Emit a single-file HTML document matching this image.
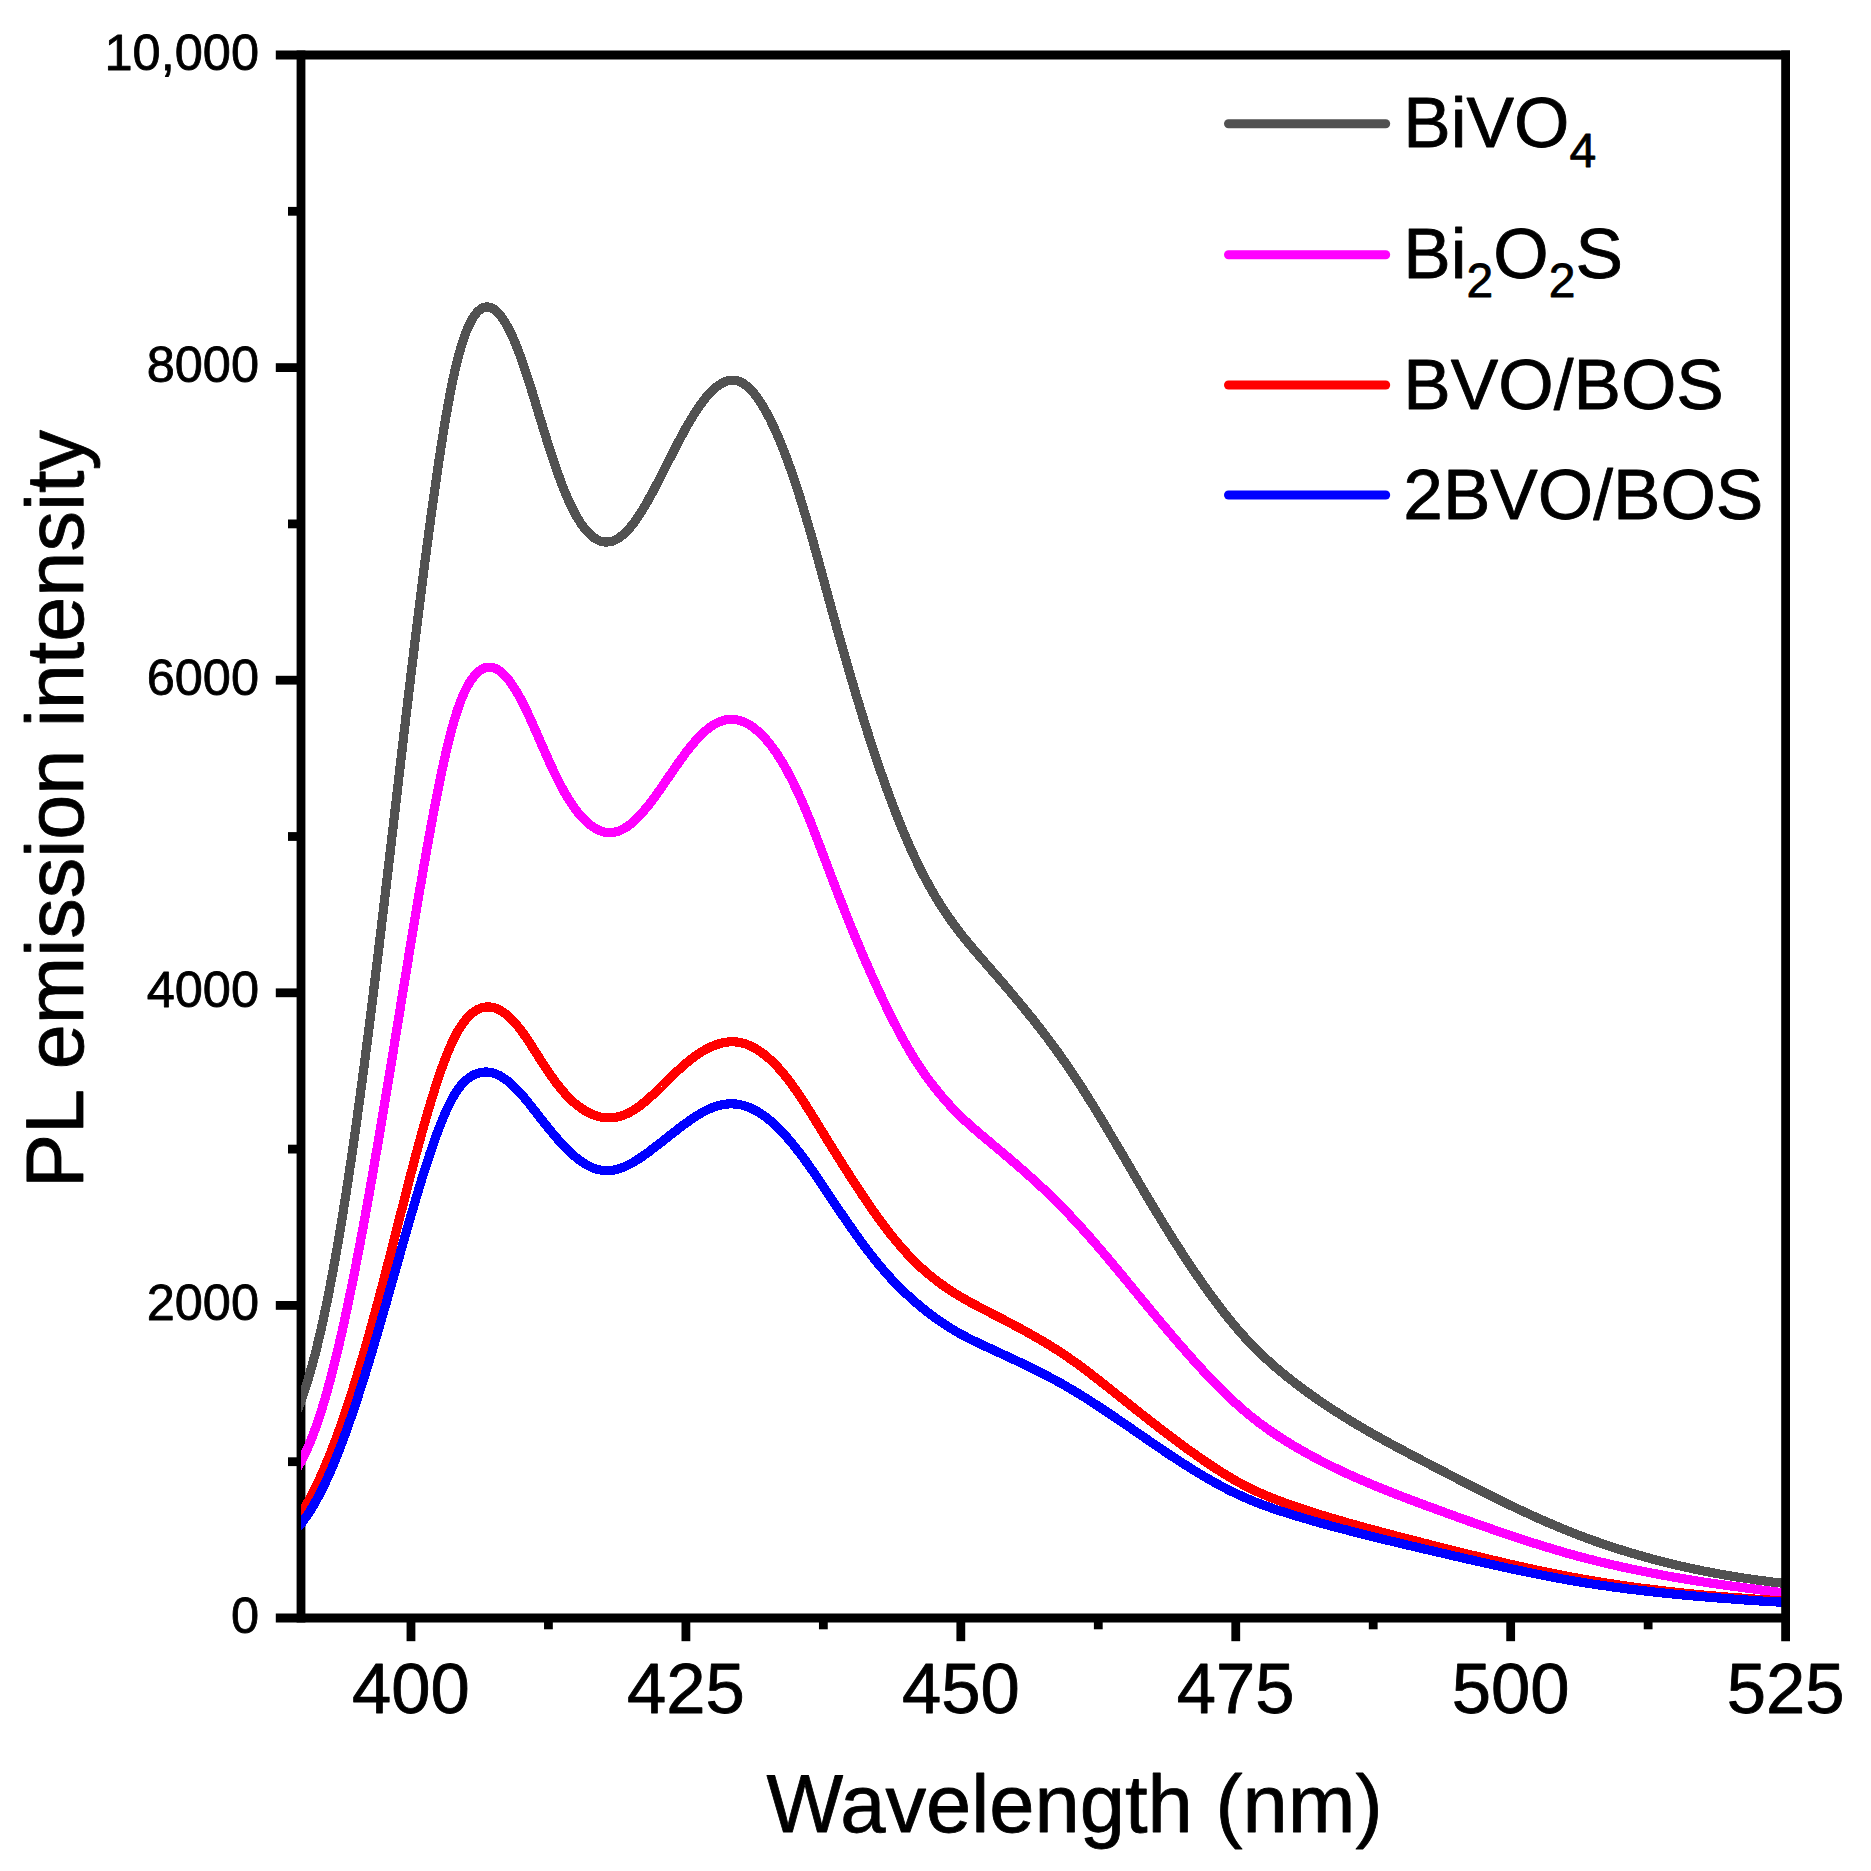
<!DOCTYPE html>
<html lang="en"><head><meta charset="utf-8"><title>PL emission intensity</title>
<style>html,body{margin:0;padding:0;background:#fff}body{width:1871px;height:1871px;overflow:hidden}svg{display:block}text{font-family:"Liberation Sans",sans-serif;fill:#000;stroke:#000;stroke-width:0.8px;stroke-linejoin:round}</style></head><body>
<svg width="1871" height="1871" viewBox="0 0 1871 1871">
<rect width="1871" height="1871" fill="#fff"/>
<g stroke="#000" stroke-width="8.8" fill="none" stroke-linecap="butt">
<line x1="301.0" y1="50.6" x2="301.0" y2="1622.4"/>
<line x1="275.8" y1="1618.0" x2="1790.0" y2="1618.0"/>
<line x1="275.8" y1="1305.40" x2="301.0" y2="1305.40"/>
<line x1="275.8" y1="992.80" x2="301.0" y2="992.80"/>
<line x1="275.8" y1="680.20" x2="301.0" y2="680.20"/>
<line x1="275.8" y1="367.60" x2="301.0" y2="367.60"/>
<line x1="288.0" y1="1461.70" x2="301.0" y2="1461.70"/>
<line x1="288.0" y1="1149.10" x2="301.0" y2="1149.10"/>
<line x1="288.0" y1="836.50" x2="301.0" y2="836.50"/>
<line x1="288.0" y1="523.90" x2="301.0" y2="523.90"/>
<line x1="288.0" y1="211.30" x2="301.0" y2="211.30"/>
<line x1="410.97" y1="1618.0" x2="410.97" y2="1641.2"/>
<line x1="685.90" y1="1618.0" x2="685.90" y2="1641.2"/>
<line x1="960.82" y1="1618.0" x2="960.82" y2="1641.2"/>
<line x1="1235.75" y1="1618.0" x2="1235.75" y2="1641.2"/>
<line x1="1510.67" y1="1618.0" x2="1510.67" y2="1641.2"/>
<line x1="548.43" y1="1618.0" x2="548.43" y2="1629.3"/>
<line x1="823.36" y1="1618.0" x2="823.36" y2="1629.3"/>
<line x1="1098.29" y1="1618.0" x2="1098.29" y2="1629.3"/>
<line x1="1373.21" y1="1618.0" x2="1373.21" y2="1629.3"/>
<line x1="1648.14" y1="1618.0" x2="1648.14" y2="1629.3"/>
</g>
<defs><clipPath id="c"><rect x="301.0" y="55.0" width="1484.6" height="1563.0"/></clipPath></defs>
<g fill="none" stroke-width="9.2" stroke-linejoin="round" stroke-linecap="butt" clip-path="url(#c)" shape-rendering="crispEdges">
<path stroke="#515151" d="M297.0,1411.2 L298.5,1407.5 L300.0,1403.6 L301.5,1399.6 L303.0,1395.4 L304.5,1390.9 L306.0,1386.3 L307.5,1381.5 L309.0,1376.5 L310.5,1371.3 L312.0,1365.9 L313.5,1360.4 L315.0,1354.6 L316.5,1348.7 L318.0,1342.5 L319.5,1336.2 L321.0,1329.7 L322.5,1323.0 L324.0,1316.1 L325.5,1309.0 L327.0,1301.7 L328.5,1294.3 L330.0,1286.6 L331.5,1278.8 L333.0,1270.8 L334.5,1262.6 L336.0,1254.2 L337.5,1245.7 L339.0,1237.0 L340.5,1228.0 L342.0,1219.0 L343.5,1209.7 L345.0,1200.2 L346.5,1190.6 L348.0,1180.8 L349.5,1170.9 L351.0,1160.8 L352.5,1150.5 L354.0,1140.1 L355.5,1129.5 L357.0,1118.7 L358.5,1107.8 L360.0,1096.8 L361.5,1085.7 L363.0,1074.4 L364.5,1062.9 L366.0,1051.4 L367.5,1039.7 L369.0,1027.9 L370.5,1016.0 L372.0,1003.9 L373.5,991.8 L375.0,979.6 L376.5,967.3 L378.0,954.9 L379.5,942.4 L381.0,929.9 L382.5,917.3 L384.0,904.7 L385.5,891.9 L387.0,879.2 L388.5,866.4 L390.0,853.6 L391.5,840.7 L393.0,827.8 L394.5,815.0 L396.0,802.1 L397.5,789.2 L399.0,776.3 L400.5,763.4 L402.0,750.6 L403.5,737.8 L405.0,725.0 L406.5,712.3 L408.0,699.6 L409.5,687.0 L411.0,674.4 L412.5,662.0 L414.0,649.6 L415.5,637.2 L417.0,625.0 L418.5,612.9 L420.0,600.8 L421.5,588.9 L423.0,577.1 L424.5,565.4 L426.0,553.9 L427.5,542.5 L429.0,531.2 L430.5,520.1 L432.0,509.1 L433.5,498.3 L435.0,487.7 L436.5,477.2 L438.0,467.0 L439.5,457.0 L441.0,447.2 L442.5,437.7 L444.0,428.4 L445.5,419.4 L447.0,410.8 L448.5,402.4 L450.0,394.4 L451.5,386.7 L453.0,379.5 L454.5,372.5 L456.0,366.0 L457.5,359.9 L459.0,354.2 L460.5,348.9 L462.0,343.9 L463.5,339.3 L465.0,335.0 L466.5,331.1 L468.0,327.5 L469.5,324.3 L471.0,321.3 L472.5,318.7 L474.0,316.3 L475.5,314.2 L477.0,312.4 L478.5,310.9 L480.0,309.6 L481.5,308.6 L483.0,307.8 L484.5,307.3 L486.0,307.0 L487.5,306.9 L489.0,307.1 L490.5,307.5 L492.0,308.2 L493.5,309.0 L495.0,310.1 L496.5,311.3 L498.0,312.8 L499.5,314.5 L501.0,316.4 L502.5,318.4 L504.0,320.7 L505.5,323.1 L507.0,325.7 L508.5,328.5 L510.0,331.5 L511.5,334.6 L513.0,337.9 L514.5,341.3 L516.0,344.9 L517.5,348.7 L519.0,352.6 L520.5,356.7 L522.0,360.8 L523.5,365.2 L525.0,369.6 L526.5,374.1 L528.0,378.8 L529.5,383.5 L531.0,388.3 L532.5,393.1 L534.0,398.0 L535.5,403.0 L537.0,407.9 L538.5,412.9 L540.0,417.8 L541.5,422.8 L543.0,427.7 L544.5,432.6 L546.0,437.4 L547.5,442.2 L549.0,446.9 L550.5,451.6 L552.0,456.2 L553.5,460.7 L555.0,465.2 L556.5,469.5 L558.0,473.8 L559.5,477.9 L561.0,482.0 L562.5,485.9 L564.0,489.7 L565.5,493.4 L567.0,496.9 L568.5,500.3 L570.0,503.6 L571.5,506.7 L573.0,509.8 L574.5,512.6 L576.0,515.4 L577.5,518.0 L579.0,520.4 L580.5,522.8 L582.0,525.0 L583.5,527.1 L585.0,529.0 L586.5,530.8 L588.0,532.4 L589.5,534.0 L591.0,535.3 L592.5,536.6 L594.0,537.7 L595.5,538.7 L597.0,539.6 L598.5,540.3 L600.0,540.9 L601.5,541.4 L603.0,541.7 L604.5,541.9 L606.0,542.0 L607.5,542.0 L609.0,541.8 L610.5,541.6 L612.0,541.2 L613.5,540.7 L615.0,540.0 L616.5,539.3 L618.0,538.4 L619.5,537.4 L621.0,536.3 L622.5,535.1 L624.0,533.8 L625.5,532.4 L627.0,530.9 L628.5,529.3 L630.0,527.6 L631.5,525.8 L633.0,523.9 L634.5,521.9 L636.0,519.8 L637.5,517.7 L639.0,515.4 L640.5,513.1 L642.0,510.7 L643.5,508.2 L645.0,505.7 L646.5,503.2 L648.0,500.5 L649.5,497.8 L651.0,495.1 L652.5,492.3 L654.0,489.5 L655.5,486.7 L657.0,483.8 L658.5,480.9 L660.0,478.0 L661.5,475.1 L663.0,472.1 L664.5,469.2 L666.0,466.2 L667.5,463.2 L669.0,460.2 L670.5,457.3 L672.0,454.3 L673.5,451.4 L675.0,448.5 L676.5,445.6 L678.0,442.7 L679.5,439.9 L681.0,437.0 L682.5,434.3 L684.0,431.5 L685.5,428.8 L687.0,426.1 L688.5,423.5 L690.0,421.0 L691.5,418.5 L693.0,416.0 L694.5,413.6 L696.0,411.3 L697.5,409.0 L699.0,406.8 L700.5,404.7 L702.0,402.6 L703.5,400.6 L705.0,398.7 L706.5,396.9 L708.0,395.2 L709.5,393.5 L711.0,391.9 L712.5,390.4 L714.0,389.0 L715.5,387.7 L717.0,386.5 L718.5,385.4 L720.0,384.4 L721.5,383.5 L723.0,382.7 L724.5,382.0 L726.0,381.4 L727.5,381.0 L729.0,380.6 L730.5,380.4 L732.0,380.3 L733.5,380.3 L735.0,380.4 L736.5,380.7 L738.0,381.1 L739.5,381.6 L741.0,382.2 L742.5,383.0 L744.0,384.0 L745.5,385.0 L747.0,386.2 L748.5,387.5 L750.0,389.0 L751.5,390.5 L753.0,392.2 L754.5,394.0 L756.0,396.0 L757.5,398.0 L759.0,400.2 L760.5,402.4 L762.0,404.8 L763.5,407.3 L765.0,409.9 L766.5,412.6 L768.0,415.3 L769.5,418.2 L771.0,421.2 L772.5,424.3 L774.0,427.5 L775.5,430.8 L777.0,434.2 L778.5,437.6 L780.0,441.2 L781.5,444.9 L783.0,448.6 L784.5,452.5 L786.0,456.4 L787.5,460.5 L789.0,464.6 L790.5,468.8 L792.0,473.1 L793.5,477.5 L795.0,482.0 L796.5,486.5 L798.0,491.2 L799.5,495.9 L801.0,500.7 L802.5,505.5 L804.0,510.5 L805.5,515.5 L807.0,520.5 L808.5,525.7 L810.0,530.9 L811.5,536.1 L813.0,541.4 L814.5,546.8 L816.0,552.2 L817.5,557.6 L819.0,563.1 L820.5,568.5 L822.0,574.0 L823.5,579.5 L825.0,585.0 L826.5,590.5 L828.0,596.0 L829.5,601.5 L831.0,606.9 L832.5,612.4 L834.0,617.8 L835.5,623.2 L837.0,628.6 L838.5,633.9 L840.0,639.3 L841.5,644.6 L843.0,649.9 L844.5,655.1 L846.0,660.4 L847.5,665.6 L849.0,670.8 L850.5,675.9 L852.0,681.0 L853.5,686.1 L855.0,691.2 L856.5,696.2 L858.0,701.2 L859.5,706.1 L861.0,711.0 L862.5,715.9 L864.0,720.7 L865.5,725.5 L867.0,730.3 L868.5,735.0 L870.0,739.6 L871.5,744.3 L873.0,748.9 L874.5,753.4 L876.0,757.9 L877.5,762.3 L879.0,766.7 L880.5,771.1 L882.0,775.4 L883.5,779.7 L885.0,783.9 L886.5,788.1 L888.0,792.2 L889.5,796.3 L891.0,800.3 L892.5,804.3 L894.0,808.2 L895.5,812.1 L897.0,816.0 L898.5,819.7 L900.0,823.5 L901.5,827.2 L903.0,830.8 L904.5,834.4 L906.0,837.9 L907.5,841.4 L909.0,844.8 L910.5,848.2 L912.0,851.5 L913.5,854.8 L915.0,858.0 L916.5,861.2 L918.0,864.3 L919.5,867.3 L921.0,870.3 L922.5,873.3 L924.0,876.2 L925.5,879.0 L927.0,881.8 L928.5,884.5 L930.0,887.2 L931.5,889.9 L933.0,892.5 L934.5,895.1 L936.0,897.6 L937.5,900.0 L939.0,902.5 L940.5,904.9 L942.0,907.2 L943.5,909.5 L945.0,911.8 L946.5,914.0 L948.0,916.2 L949.5,918.4 L951.0,920.5 L952.5,922.6 L954.0,924.7 L955.5,926.7 L957.0,928.7 L958.5,930.7 L960.0,932.6 L961.5,934.6 L963.0,936.5 L964.5,938.3 L966.0,940.2 L967.5,942.0 L969.0,943.8 L970.5,945.6 L972.0,947.4 L973.5,949.2 L975.0,950.9 L976.5,952.7 L978.0,954.4 L979.5,956.1 L981.0,957.9 L982.5,959.6 L984.0,961.3 L985.5,963.1 L987.0,964.8 L988.5,966.5 L990.0,968.2 L991.5,970.0 L993.0,971.7 L994.5,973.4 L996.0,975.2 L997.5,976.9 L999.0,978.6 L1000.5,980.4 L1002.0,982.1 L1003.5,983.9 L1005.0,985.6 L1006.5,987.4 L1008.0,989.2 L1009.5,990.9 L1011.0,992.7 L1012.5,994.5 L1014.0,996.3 L1015.5,998.1 L1017.0,999.9 L1018.5,1001.7 L1020.0,1003.5 L1021.5,1005.3 L1023.0,1007.1 L1024.5,1008.9 L1026.0,1010.8 L1027.5,1012.6 L1029.0,1014.5 L1030.5,1016.4 L1032.0,1018.2 L1033.5,1020.1 L1035.0,1022.0 L1036.5,1023.9 L1038.0,1025.8 L1039.5,1027.7 L1041.0,1029.7 L1042.5,1031.6 L1044.0,1033.6 L1045.5,1035.6 L1047.0,1037.5 L1048.5,1039.5 L1050.0,1041.5 L1051.5,1043.6 L1053.0,1045.6 L1054.5,1047.6 L1056.0,1049.7 L1057.5,1051.8 L1059.0,1053.9 L1060.5,1056.0 L1062.0,1058.1 L1063.5,1060.2 L1065.0,1062.4 L1066.5,1064.5 L1068.0,1066.7 L1069.5,1068.9 L1071.0,1071.1 L1072.5,1073.4 L1074.0,1075.6 L1075.5,1077.9 L1077.0,1080.2 L1078.5,1082.5 L1080.0,1084.8 L1081.5,1087.1 L1083.0,1089.5 L1084.5,1091.8 L1086.0,1094.2 L1087.5,1096.6 L1089.0,1099.0 L1090.5,1101.4 L1092.0,1103.8 L1093.5,1106.2 L1095.0,1108.7 L1096.5,1111.1 L1098.0,1113.6 L1099.5,1116.1 L1101.0,1118.5 L1102.5,1121.0 L1104.0,1123.5 L1105.5,1126.0 L1107.0,1128.5 L1108.5,1131.1 L1110.0,1133.6 L1111.5,1136.1 L1113.0,1138.6 L1114.5,1141.2 L1116.0,1143.7 L1117.5,1146.3 L1119.0,1148.8 L1120.5,1151.4 L1122.0,1153.9 L1123.5,1156.5 L1125.0,1159.0 L1126.5,1161.6 L1128.0,1164.2 L1129.5,1166.7 L1131.0,1169.3 L1132.5,1171.8 L1134.0,1174.4 L1135.5,1177.0 L1137.0,1179.5 L1138.5,1182.1 L1140.0,1184.6 L1141.5,1187.2 L1143.0,1189.7 L1144.5,1192.2 L1146.0,1194.8 L1147.5,1197.3 L1149.0,1199.8 L1150.5,1202.3 L1152.0,1204.8 L1153.5,1207.3 L1155.0,1209.8 L1156.5,1212.3 L1158.0,1214.8 L1159.5,1217.2 L1161.0,1219.7 L1162.5,1222.1 L1164.0,1224.6 L1165.5,1227.0 L1167.0,1229.4 L1168.5,1231.8 L1170.0,1234.2 L1171.5,1236.6 L1173.0,1239.0 L1174.5,1241.4 L1176.0,1243.7 L1177.5,1246.1 L1179.0,1248.4 L1180.5,1250.7 L1182.0,1253.0 L1183.5,1255.3 L1185.0,1257.6 L1186.5,1259.9 L1188.0,1262.2 L1189.5,1264.4 L1191.0,1266.6 L1192.5,1268.9 L1194.0,1271.1 L1195.5,1273.3 L1197.0,1275.5 L1198.5,1277.7 L1200.0,1279.8 L1201.5,1282.0 L1203.0,1284.1 L1204.5,1286.2 L1206.0,1288.3 L1207.5,1290.4 L1209.0,1292.5 L1210.5,1294.6 L1212.0,1296.7 L1213.5,1298.7 L1215.0,1300.7 L1216.5,1302.7 L1218.0,1304.7 L1219.5,1306.7 L1221.0,1308.7 L1222.5,1310.6 L1224.0,1312.5 L1225.5,1314.4 L1227.0,1316.3 L1228.5,1318.2 L1230.0,1320.1 L1231.5,1321.9 L1233.0,1323.7 L1234.5,1325.5 L1236.0,1327.3 L1237.5,1329.1 L1239.0,1330.8 L1240.5,1332.5 L1242.0,1334.2 L1243.5,1335.9 L1245.0,1337.6 L1246.5,1339.2 L1248.0,1340.8 L1249.5,1342.4 L1251.0,1344.0 L1252.5,1345.5 L1254.0,1347.1 L1255.5,1348.6 L1257.0,1350.1 L1258.5,1351.6 L1260.0,1353.0 L1261.5,1354.5 L1263.0,1355.9 L1264.5,1357.3 L1266.0,1358.7 L1267.5,1360.0 L1269.0,1361.4 L1270.5,1362.8 L1272.0,1364.1 L1273.5,1365.4 L1275.0,1366.7 L1276.5,1368.0 L1278.0,1369.3 L1279.5,1370.5 L1281.0,1371.8 L1282.5,1373.0 L1284.0,1374.2 L1285.5,1375.5 L1287.0,1376.7 L1288.5,1377.9 L1290.0,1379.1 L1291.5,1380.2 L1293.0,1381.4 L1294.5,1382.6 L1296.0,1383.7 L1297.5,1384.9 L1299.0,1386.0 L1300.5,1387.1 L1302.0,1388.2 L1303.5,1389.4 L1305.0,1390.5 L1306.5,1391.6 L1308.0,1392.7 L1309.5,1393.7 L1311.0,1394.8 L1312.5,1395.9 L1314.0,1396.9 L1315.5,1398.0 L1317.0,1399.0 L1318.5,1400.1 L1320.0,1401.1 L1321.5,1402.1 L1323.0,1403.2 L1324.5,1404.2 L1326.0,1405.2 L1327.5,1406.2 L1329.0,1407.2 L1330.5,1408.2 L1332.0,1409.1 L1333.5,1410.1 L1335.0,1411.1 L1336.5,1412.0 L1338.0,1413.0 L1339.5,1413.9 L1341.0,1414.9 L1342.5,1415.8 L1344.0,1416.8 L1345.5,1417.7 L1347.0,1418.6 L1348.5,1419.5 L1350.0,1420.5 L1351.5,1421.4 L1353.0,1422.3 L1354.5,1423.2 L1356.0,1424.1 L1357.5,1425.0 L1359.0,1425.9 L1360.5,1426.7 L1362.0,1427.6 L1363.5,1428.5 L1365.0,1429.4 L1366.5,1430.2 L1368.0,1431.1 L1369.5,1432.0 L1371.0,1432.8 L1372.5,1433.7 L1374.0,1434.5 L1375.5,1435.4 L1377.0,1436.2 L1378.5,1437.1 L1380.0,1437.9 L1381.5,1438.7 L1383.0,1439.6 L1384.5,1440.4 L1386.0,1441.2 L1387.5,1442.0 L1389.0,1442.9 L1390.5,1443.7 L1392.0,1444.5 L1393.5,1445.3 L1395.0,1446.1 L1396.5,1446.9 L1398.0,1447.7 L1399.5,1448.5 L1401.0,1449.3 L1402.5,1450.1 L1404.0,1450.9 L1405.5,1451.7 L1407.0,1452.5 L1408.5,1453.3 L1410.0,1454.1 L1411.5,1454.9 L1413.0,1455.7 L1414.5,1456.5 L1416.0,1457.3 L1417.5,1458.0 L1419.0,1458.8 L1420.5,1459.6 L1422.0,1460.4 L1423.5,1461.2 L1425.0,1462.0 L1426.5,1462.7 L1428.0,1463.5 L1429.5,1464.3 L1431.0,1465.1 L1432.5,1465.9 L1434.0,1466.7 L1435.5,1467.4 L1437.0,1468.2 L1438.5,1469.0 L1440.0,1469.8 L1441.5,1470.6 L1443.0,1471.3 L1444.5,1472.1 L1446.0,1472.9 L1447.5,1473.7 L1449.0,1474.4 L1450.5,1475.2 L1452.0,1476.0 L1453.5,1476.8 L1455.0,1477.5 L1456.5,1478.3 L1458.0,1479.1 L1459.5,1479.9 L1461.0,1480.6 L1462.5,1481.4 L1464.0,1482.2 L1465.5,1483.0 L1467.0,1483.7 L1468.5,1484.5 L1470.0,1485.3 L1471.5,1486.0 L1473.0,1486.8 L1474.5,1487.5 L1476.0,1488.3 L1477.5,1489.1 L1479.0,1489.8 L1480.5,1490.6 L1482.0,1491.3 L1483.5,1492.1 L1485.0,1492.8 L1486.5,1493.6 L1488.0,1494.3 L1489.5,1495.1 L1491.0,1495.8 L1492.5,1496.6 L1494.0,1497.3 L1495.5,1498.1 L1497.0,1498.8 L1498.5,1499.6 L1500.0,1500.3 L1501.5,1501.0 L1503.0,1501.8 L1504.5,1502.5 L1506.0,1503.2 L1507.5,1503.9 L1509.0,1504.7 L1510.5,1505.4 L1512.0,1506.1 L1513.5,1506.8 L1515.0,1507.5 L1516.5,1508.2 L1518.0,1508.9 L1519.5,1509.7 L1521.0,1510.4 L1522.5,1511.1 L1524.0,1511.8 L1525.5,1512.5 L1527.0,1513.1 L1528.5,1513.8 L1530.0,1514.5 L1531.5,1515.2 L1533.0,1515.9 L1534.5,1516.6 L1536.0,1517.2 L1537.5,1517.9 L1539.0,1518.6 L1540.5,1519.3 L1542.0,1519.9 L1543.5,1520.6 L1545.0,1521.2 L1546.5,1521.9 L1548.0,1522.6 L1549.5,1523.2 L1551.0,1523.8 L1552.5,1524.5 L1554.0,1525.1 L1555.5,1525.8 L1557.0,1526.4 L1558.5,1527.0 L1560.0,1527.6 L1561.5,1528.3 L1563.0,1528.9 L1564.5,1529.5 L1566.0,1530.1 L1567.5,1530.7 L1569.0,1531.3 L1570.5,1531.9 L1572.0,1532.5 L1573.5,1533.1 L1575.0,1533.7 L1576.5,1534.3 L1578.0,1534.9 L1579.5,1535.4 L1581.0,1536.0 L1582.5,1536.6 L1584.0,1537.1 L1585.5,1537.7 L1587.0,1538.3 L1588.5,1538.8 L1590.0,1539.4 L1591.5,1539.9 L1593.0,1540.4 L1594.5,1541.0 L1596.0,1541.5 L1597.5,1542.0 L1599.0,1542.6 L1600.5,1543.1 L1602.0,1543.6 L1603.5,1544.1 L1605.0,1544.6 L1606.5,1545.1 L1608.0,1545.6 L1609.5,1546.1 L1611.0,1546.6 L1612.5,1547.1 L1614.0,1547.6 L1615.5,1548.1 L1617.0,1548.6 L1618.5,1549.1 L1620.0,1549.5 L1621.5,1550.0 L1623.0,1550.5 L1624.5,1551.0 L1626.0,1551.4 L1627.5,1551.9 L1629.0,1552.3 L1630.5,1552.8 L1632.0,1553.2 L1633.5,1553.7 L1635.0,1554.1 L1636.5,1554.6 L1638.0,1555.0 L1639.5,1555.4 L1641.0,1555.8 L1642.5,1556.3 L1644.0,1556.7 L1645.5,1557.1 L1647.0,1557.5 L1648.5,1557.9 L1650.0,1558.3 L1651.5,1558.8 L1653.0,1559.2 L1654.5,1559.6 L1656.0,1560.0 L1657.5,1560.3 L1659.0,1560.7 L1660.5,1561.1 L1662.0,1561.5 L1663.5,1561.9 L1665.0,1562.3 L1666.5,1562.6 L1668.0,1563.0 L1669.5,1563.4 L1671.0,1563.8 L1672.5,1564.1 L1674.0,1564.5 L1675.5,1564.8 L1677.0,1565.2 L1678.5,1565.5 L1680.0,1565.9 L1681.5,1566.2 L1683.0,1566.6 L1684.5,1566.9 L1686.0,1567.2 L1687.5,1567.6 L1689.0,1567.9 L1690.5,1568.2 L1692.0,1568.6 L1693.5,1568.9 L1695.0,1569.2 L1696.5,1569.5 L1698.0,1569.8 L1699.5,1570.1 L1701.0,1570.4 L1702.5,1570.8 L1704.0,1571.1 L1705.5,1571.4 L1707.0,1571.6 L1708.5,1571.9 L1710.0,1572.2 L1711.5,1572.5 L1713.0,1572.8 L1714.5,1573.1 L1716.0,1573.4 L1717.5,1573.6 L1719.0,1573.9 L1720.5,1574.2 L1722.0,1574.5 L1723.5,1574.7 L1725.0,1575.0 L1726.5,1575.2 L1728.0,1575.5 L1729.5,1575.7 L1731.0,1576.0 L1732.5,1576.3 L1734.0,1576.5 L1735.5,1576.7 L1737.0,1577.0 L1738.5,1577.2 L1740.0,1577.5 L1741.5,1577.7 L1743.0,1577.9 L1744.5,1578.2 L1746.0,1578.4 L1747.5,1578.6 L1749.0,1578.8 L1750.5,1579.0 L1752.0,1579.3 L1753.5,1579.5 L1755.0,1579.7 L1756.5,1579.9 L1758.0,1580.1 L1759.5,1580.3 L1761.0,1580.5 L1762.5,1580.7 L1764.0,1580.9 L1765.5,1581.1 L1767.0,1581.3 L1768.5,1581.5 L1770.0,1581.7 L1771.5,1581.9 L1773.0,1582.1 L1774.5,1582.3 L1776.0,1582.4 L1777.5,1582.6 L1779.0,1582.8 L1780.5,1583.0 L1782.0,1583.2 L1783.5,1583.3 L1785.0,1583.5 L1786.5,1583.7 L1788.0,1583.8 L1789.5,1584.0"/>
<path stroke="#ff00ff" d="M297.0,1468.1 L298.5,1465.8 L300.0,1463.2 L301.5,1460.6 L303.0,1457.7 L304.5,1454.7 L306.0,1451.6 L307.5,1448.3 L309.0,1444.8 L310.5,1441.2 L312.0,1437.5 L313.5,1433.6 L315.0,1429.5 L316.5,1425.3 L318.0,1420.9 L319.5,1416.4 L321.0,1411.8 L322.5,1407.0 L324.0,1402.0 L325.5,1396.9 L327.0,1391.6 L328.5,1386.2 L330.0,1380.7 L331.5,1375.0 L333.0,1369.2 L334.5,1363.3 L336.0,1357.2 L337.5,1351.0 L339.0,1344.7 L340.5,1338.2 L342.0,1331.6 L343.5,1324.9 L345.0,1318.1 L346.5,1311.1 L348.0,1304.1 L349.5,1296.9 L351.0,1289.6 L352.5,1282.2 L354.0,1274.7 L355.5,1267.1 L357.0,1259.4 L358.5,1251.6 L360.0,1243.8 L361.5,1235.8 L363.0,1227.7 L364.5,1219.6 L366.0,1211.4 L367.5,1203.1 L369.0,1194.7 L370.5,1186.2 L372.0,1177.7 L373.5,1169.1 L375.0,1160.4 L376.5,1151.7 L378.0,1143.0 L379.5,1134.1 L381.0,1125.2 L382.5,1116.3 L384.0,1107.3 L385.5,1098.3 L387.0,1089.3 L388.5,1080.2 L390.0,1071.1 L391.5,1061.9 L393.0,1052.7 L394.5,1043.5 L396.0,1034.3 L397.5,1025.1 L399.0,1015.9 L400.5,1006.6 L402.0,997.4 L403.5,988.2 L405.0,978.9 L406.5,969.8 L408.0,960.6 L409.5,951.4 L411.0,942.3 L412.5,933.2 L414.0,924.2 L415.5,915.2 L417.0,906.2 L418.5,897.3 L420.0,888.5 L421.5,879.7 L423.0,871.1 L424.5,862.5 L426.0,853.9 L427.5,845.5 L429.0,837.2 L430.5,829.0 L432.0,820.9 L433.5,812.9 L435.0,805.0 L436.5,797.3 L438.0,789.7 L439.5,782.3 L441.0,775.0 L442.5,768.0 L444.0,761.1 L445.5,754.4 L447.0,748.0 L448.5,741.8 L450.0,735.8 L451.5,730.1 L453.0,724.6 L454.5,719.5 L456.0,714.6 L457.5,710.0 L459.0,705.7 L460.5,701.6 L462.0,697.8 L463.5,694.3 L465.0,691.0 L466.5,688.0 L468.0,685.2 L469.5,682.6 L471.0,680.3 L472.5,678.2 L474.0,676.2 L475.5,674.5 L477.0,673.0 L478.5,671.6 L480.0,670.5 L481.5,669.5 L483.0,668.7 L484.5,668.0 L486.0,667.6 L487.5,667.3 L489.0,667.2 L490.5,667.2 L492.0,667.4 L493.5,667.8 L495.0,668.3 L496.5,669.0 L498.0,669.8 L499.5,670.8 L501.0,672.0 L502.5,673.2 L504.0,674.7 L505.5,676.2 L507.0,677.9 L508.5,679.8 L510.0,681.7 L511.5,683.8 L513.0,686.0 L514.5,688.3 L516.0,690.8 L517.5,693.3 L519.0,696.0 L520.5,698.7 L522.0,701.6 L523.5,704.5 L525.0,707.6 L526.5,710.7 L528.0,713.8 L529.5,717.1 L531.0,720.4 L532.5,723.7 L534.0,727.1 L535.5,730.5 L537.0,733.9 L538.5,737.3 L540.0,740.7 L541.5,744.2 L543.0,747.6 L544.5,751.0 L546.0,754.4 L547.5,757.7 L549.0,761.1 L550.5,764.3 L552.0,767.6 L553.5,770.8 L555.0,773.9 L556.5,777.0 L558.0,780.0 L559.5,783.0 L561.0,785.9 L562.5,788.7 L564.0,791.4 L565.5,794.0 L567.0,796.6 L568.5,799.1 L570.0,801.4 L571.5,803.7 L573.0,805.9 L574.5,808.0 L576.0,810.1 L577.5,812.0 L579.0,813.9 L580.5,815.6 L582.0,817.3 L583.5,818.9 L585.0,820.4 L586.5,821.8 L588.0,823.2 L589.5,824.4 L591.0,825.6 L592.5,826.6 L594.0,827.6 L595.5,828.5 L597.0,829.3 L598.5,830.1 L600.0,830.7 L601.5,831.3 L603.0,831.7 L604.5,832.1 L606.0,832.3 L607.5,832.5 L609.0,832.6 L610.5,832.6 L612.0,832.5 L613.5,832.3 L615.0,832.0 L616.5,831.7 L618.0,831.2 L619.5,830.7 L621.0,830.0 L622.5,829.3 L624.0,828.5 L625.5,827.7 L627.0,826.7 L628.5,825.7 L630.0,824.5 L631.5,823.3 L633.0,822.1 L634.5,820.7 L636.0,819.3 L637.5,817.8 L639.0,816.3 L640.5,814.7 L642.0,813.0 L643.5,811.3 L645.0,809.5 L646.5,807.7 L648.0,805.8 L649.5,803.9 L651.0,802.0 L652.5,800.0 L654.0,798.0 L655.5,795.9 L657.0,793.8 L658.5,791.7 L660.0,789.6 L661.5,787.4 L663.0,785.2 L664.5,783.1 L666.0,780.9 L667.5,778.7 L669.0,776.5 L670.5,774.3 L672.0,772.1 L673.5,769.9 L675.0,767.8 L676.5,765.6 L678.0,763.5 L679.5,761.3 L681.0,759.3 L682.5,757.2 L684.0,755.2 L685.5,753.1 L687.0,751.2 L688.5,749.2 L690.0,747.4 L691.5,745.5 L693.0,743.7 L694.5,742.0 L696.0,740.3 L697.5,738.6 L699.0,737.0 L700.5,735.5 L702.0,734.0 L703.5,732.6 L705.0,731.3 L706.5,730.0 L708.0,728.8 L709.5,727.7 L711.0,726.6 L712.5,725.6 L714.0,724.6 L715.5,723.8 L717.0,723.0 L718.5,722.3 L720.0,721.7 L721.5,721.1 L723.0,720.6 L724.5,720.2 L726.0,719.9 L727.5,719.7 L729.0,719.5 L730.5,719.4 L732.0,719.4 L733.5,719.5 L735.0,719.6 L736.5,719.8 L738.0,720.1 L739.5,720.5 L741.0,721.0 L742.5,721.5 L744.0,722.1 L745.5,722.8 L747.0,723.5 L748.5,724.3 L750.0,725.2 L751.5,726.2 L753.0,727.3 L754.5,728.4 L756.0,729.6 L757.5,730.9 L759.0,732.2 L760.5,733.6 L762.0,735.1 L763.5,736.7 L765.0,738.3 L766.5,740.0 L768.0,741.8 L769.5,743.6 L771.0,745.5 L772.5,747.5 L774.0,749.6 L775.5,751.7 L777.0,753.9 L778.5,756.2 L780.0,758.6 L781.5,761.0 L783.0,763.5 L784.5,766.1 L786.0,768.8 L787.5,771.5 L789.0,774.3 L790.5,777.2 L792.0,780.1 L793.5,783.1 L795.0,786.2 L796.5,789.4 L798.0,792.6 L799.5,795.9 L801.0,799.2 L802.5,802.6 L804.0,806.1 L805.5,809.6 L807.0,813.2 L808.5,816.9 L810.0,820.6 L811.5,824.4 L813.0,828.2 L814.5,832.1 L816.0,836.0 L817.5,839.9 L819.0,843.8 L820.5,847.8 L822.0,851.8 L823.5,855.7 L825.0,859.7 L826.5,863.7 L828.0,867.7 L829.5,871.7 L831.0,875.6 L832.5,879.5 L834.0,883.5 L835.5,887.4 L837.0,891.3 L838.5,895.1 L840.0,899.0 L841.5,902.8 L843.0,906.6 L844.5,910.4 L846.0,914.2 L847.5,917.9 L849.0,921.7 L850.5,925.4 L852.0,929.1 L853.5,932.7 L855.0,936.4 L856.5,940.0 L858.0,943.6 L859.5,947.1 L861.0,950.7 L862.5,954.2 L864.0,957.7 L865.5,961.2 L867.0,964.6 L868.5,968.1 L870.0,971.5 L871.5,974.9 L873.0,978.2 L874.5,981.6 L876.0,984.9 L877.5,988.1 L879.0,991.4 L880.5,994.6 L882.0,997.8 L883.5,1001.0 L885.0,1004.1 L886.5,1007.2 L888.0,1010.3 L889.5,1013.4 L891.0,1016.4 L892.5,1019.4 L894.0,1022.3 L895.5,1025.2 L897.0,1028.1 L898.5,1031.0 L900.0,1033.8 L901.5,1036.5 L903.0,1039.3 L904.5,1042.0 L906.0,1044.6 L907.5,1047.2 L909.0,1049.8 L910.5,1052.4 L912.0,1054.8 L913.5,1057.3 L915.0,1059.7 L916.5,1062.1 L918.0,1064.4 L919.5,1066.7 L921.0,1068.9 L922.5,1071.1 L924.0,1073.3 L925.5,1075.4 L927.0,1077.5 L928.5,1079.5 L930.0,1081.5 L931.5,1083.5 L933.0,1085.4 L934.5,1087.4 L936.0,1089.2 L937.5,1091.1 L939.0,1092.9 L940.5,1094.7 L942.0,1096.5 L943.5,1098.2 L945.0,1100.0 L946.5,1101.7 L948.0,1103.3 L949.5,1105.0 L951.0,1106.6 L952.5,1108.2 L954.0,1109.8 L955.5,1111.3 L957.0,1112.8 L958.5,1114.3 L960.0,1115.8 L961.5,1117.3 L963.0,1118.7 L964.5,1120.1 L966.0,1121.5 L967.5,1122.9 L969.0,1124.2 L970.5,1125.6 L972.0,1126.9 L973.5,1128.2 L975.0,1129.5 L976.5,1130.8 L978.0,1132.1 L979.5,1133.3 L981.0,1134.6 L982.5,1135.9 L984.0,1137.2 L985.5,1138.4 L987.0,1139.7 L988.5,1140.9 L990.0,1142.2 L991.5,1143.5 L993.0,1144.7 L994.5,1146.0 L996.0,1147.2 L997.5,1148.5 L999.0,1149.7 L1000.5,1151.0 L1002.0,1152.3 L1003.5,1153.5 L1005.0,1154.8 L1006.5,1156.1 L1008.0,1157.3 L1009.5,1158.6 L1011.0,1159.9 L1012.5,1161.2 L1014.0,1162.5 L1015.5,1163.8 L1017.0,1165.1 L1018.5,1166.4 L1020.0,1167.7 L1021.5,1169.0 L1023.0,1170.3 L1024.5,1171.6 L1026.0,1172.9 L1027.5,1174.3 L1029.0,1175.6 L1030.5,1177.0 L1032.0,1178.3 L1033.5,1179.7 L1035.0,1181.1 L1036.5,1182.4 L1038.0,1183.8 L1039.5,1185.2 L1041.0,1186.6 L1042.5,1188.0 L1044.0,1189.4 L1045.5,1190.9 L1047.0,1192.3 L1048.5,1193.7 L1050.0,1195.2 L1051.5,1196.7 L1053.0,1198.1 L1054.5,1199.6 L1056.0,1201.1 L1057.5,1202.6 L1059.0,1204.1 L1060.5,1205.6 L1062.0,1207.1 L1063.5,1208.7 L1065.0,1210.2 L1066.5,1211.8 L1068.0,1213.3 L1069.5,1214.9 L1071.0,1216.5 L1072.5,1218.1 L1074.0,1219.7 L1075.5,1221.3 L1077.0,1223.0 L1078.5,1224.6 L1080.0,1226.3 L1081.5,1227.9 L1083.0,1229.6 L1084.5,1231.2 L1086.0,1232.9 L1087.5,1234.6 L1089.0,1236.3 L1090.5,1238.0 L1092.0,1239.7 L1093.5,1241.5 L1095.0,1243.2 L1096.5,1244.9 L1098.0,1246.7 L1099.5,1248.4 L1101.0,1250.2 L1102.5,1251.9 L1104.0,1253.7 L1105.5,1255.5 L1107.0,1257.2 L1108.5,1259.0 L1110.0,1260.8 L1111.5,1262.6 L1113.0,1264.4 L1114.5,1266.2 L1116.0,1268.0 L1117.5,1269.8 L1119.0,1271.6 L1120.5,1273.4 L1122.0,1275.2 L1123.5,1277.1 L1125.0,1278.9 L1126.5,1280.7 L1128.0,1282.5 L1129.5,1284.3 L1131.0,1286.2 L1132.5,1288.0 L1134.0,1289.8 L1135.5,1291.7 L1137.0,1293.5 L1138.5,1295.3 L1140.0,1297.1 L1141.5,1299.0 L1143.0,1300.8 L1144.5,1302.6 L1146.0,1304.4 L1147.5,1306.2 L1149.0,1308.1 L1150.5,1309.9 L1152.0,1311.7 L1153.5,1313.5 L1155.0,1315.3 L1156.5,1317.1 L1158.0,1318.9 L1159.5,1320.7 L1161.0,1322.5 L1162.5,1324.3 L1164.0,1326.1 L1165.5,1327.9 L1167.0,1329.6 L1168.5,1331.4 L1170.0,1333.2 L1171.5,1334.9 L1173.0,1336.7 L1174.5,1338.4 L1176.0,1340.2 L1177.5,1341.9 L1179.0,1343.7 L1180.5,1345.4 L1182.0,1347.1 L1183.5,1348.8 L1185.0,1350.5 L1186.5,1352.2 L1188.0,1353.9 L1189.5,1355.6 L1191.0,1357.3 L1192.5,1359.0 L1194.0,1360.6 L1195.5,1362.3 L1197.0,1363.9 L1198.5,1365.6 L1200.0,1367.2 L1201.5,1368.9 L1203.0,1370.5 L1204.5,1372.1 L1206.0,1373.7 L1207.5,1375.3 L1209.0,1376.9 L1210.5,1378.4 L1212.0,1380.0 L1213.5,1381.6 L1215.0,1383.1 L1216.5,1384.6 L1218.0,1386.2 L1219.5,1387.7 L1221.0,1389.2 L1222.5,1390.7 L1224.0,1392.2 L1225.5,1393.6 L1227.0,1395.1 L1228.5,1396.5 L1230.0,1397.9 L1231.5,1399.4 L1233.0,1400.8 L1234.5,1402.1 L1236.0,1403.5 L1237.5,1404.9 L1239.0,1406.2 L1240.5,1407.6 L1242.0,1408.9 L1243.5,1410.2 L1245.0,1411.4 L1246.5,1412.7 L1248.0,1414.0 L1249.5,1415.2 L1251.0,1416.4 L1252.5,1417.6 L1254.0,1418.8 L1255.5,1420.0 L1257.0,1421.1 L1258.5,1422.3 L1260.0,1423.4 L1261.5,1424.5 L1263.0,1425.6 L1264.5,1426.7 L1266.0,1427.8 L1267.5,1428.9 L1269.0,1429.9 L1270.5,1431.0 L1272.0,1432.0 L1273.5,1433.0 L1275.0,1434.0 L1276.5,1435.0 L1278.0,1436.0 L1279.5,1437.0 L1281.0,1438.0 L1282.5,1438.9 L1284.0,1439.9 L1285.5,1440.8 L1287.0,1441.7 L1288.5,1442.7 L1290.0,1443.6 L1291.5,1444.5 L1293.0,1445.4 L1294.5,1446.3 L1296.0,1447.2 L1297.5,1448.0 L1299.0,1448.9 L1300.5,1449.8 L1302.0,1450.6 L1303.5,1451.5 L1305.0,1452.3 L1306.5,1453.2 L1308.0,1454.0 L1309.5,1454.8 L1311.0,1455.6 L1312.5,1456.4 L1314.0,1457.3 L1315.5,1458.1 L1317.0,1458.8 L1318.5,1459.6 L1320.0,1460.4 L1321.5,1461.2 L1323.0,1462.0 L1324.5,1462.7 L1326.0,1463.5 L1327.5,1464.2 L1329.0,1465.0 L1330.5,1465.7 L1332.0,1466.5 L1333.5,1467.2 L1335.0,1467.9 L1336.5,1468.6 L1338.0,1469.4 L1339.5,1470.1 L1341.0,1470.8 L1342.5,1471.5 L1344.0,1472.2 L1345.5,1472.9 L1347.0,1473.6 L1348.5,1474.3 L1350.0,1474.9 L1351.5,1475.6 L1353.0,1476.3 L1354.5,1477.0 L1356.0,1477.6 L1357.5,1478.3 L1359.0,1478.9 L1360.5,1479.6 L1362.0,1480.2 L1363.5,1480.9 L1365.0,1481.5 L1366.5,1482.2 L1368.0,1482.8 L1369.5,1483.4 L1371.0,1484.1 L1372.5,1484.7 L1374.0,1485.3 L1375.5,1485.9 L1377.0,1486.6 L1378.5,1487.2 L1380.0,1487.8 L1381.5,1488.4 L1383.0,1489.0 L1384.5,1489.6 L1386.0,1490.2 L1387.5,1490.8 L1389.0,1491.4 L1390.5,1492.0 L1392.0,1492.6 L1393.5,1493.2 L1395.0,1493.8 L1396.5,1494.4 L1398.0,1494.9 L1399.5,1495.5 L1401.0,1496.1 L1402.5,1496.7 L1404.0,1497.3 L1405.5,1497.8 L1407.0,1498.4 L1408.5,1499.0 L1410.0,1499.5 L1411.5,1500.1 L1413.0,1500.7 L1414.5,1501.2 L1416.0,1501.8 L1417.5,1502.4 L1419.0,1502.9 L1420.5,1503.5 L1422.0,1504.0 L1423.5,1504.6 L1425.0,1505.2 L1426.5,1505.7 L1428.0,1506.3 L1429.5,1506.8 L1431.0,1507.4 L1432.5,1507.9 L1434.0,1508.5 L1435.5,1509.0 L1437.0,1509.6 L1438.5,1510.1 L1440.0,1510.7 L1441.5,1511.2 L1443.0,1511.8 L1444.5,1512.3 L1446.0,1512.9 L1447.5,1513.4 L1449.0,1513.9 L1450.5,1514.5 L1452.0,1515.0 L1453.5,1515.6 L1455.0,1516.1 L1456.5,1516.7 L1458.0,1517.2 L1459.5,1517.7 L1461.0,1518.3 L1462.5,1518.8 L1464.0,1519.3 L1465.5,1519.9 L1467.0,1520.4 L1468.5,1521.0 L1470.0,1521.5 L1471.5,1522.0 L1473.0,1522.5 L1474.5,1523.1 L1476.0,1523.6 L1477.5,1524.1 L1479.0,1524.7 L1480.5,1525.2 L1482.0,1525.7 L1483.5,1526.2 L1485.0,1526.8 L1486.5,1527.3 L1488.0,1527.8 L1489.5,1528.3 L1491.0,1528.8 L1492.5,1529.4 L1494.0,1529.9 L1495.5,1530.4 L1497.0,1530.9 L1498.5,1531.4 L1500.0,1531.9 L1501.5,1532.4 L1503.0,1533.0 L1504.5,1533.5 L1506.0,1534.0 L1507.5,1534.5 L1509.0,1535.0 L1510.5,1535.5 L1512.0,1536.0 L1513.5,1536.5 L1515.0,1537.0 L1516.5,1537.5 L1518.0,1538.0 L1519.5,1538.5 L1521.0,1539.0 L1522.5,1539.5 L1524.0,1539.9 L1525.5,1540.4 L1527.0,1540.9 L1528.5,1541.4 L1530.0,1541.9 L1531.5,1542.4 L1533.0,1542.9 L1534.5,1543.3 L1536.0,1543.8 L1537.5,1544.3 L1539.0,1544.7 L1540.5,1545.2 L1542.0,1545.7 L1543.5,1546.2 L1545.0,1546.6 L1546.5,1547.1 L1548.0,1547.5 L1549.5,1548.0 L1551.0,1548.4 L1552.5,1548.9 L1554.0,1549.3 L1555.5,1549.8 L1557.0,1550.2 L1558.5,1550.7 L1560.0,1551.1 L1561.5,1551.6 L1563.0,1552.0 L1564.5,1552.4 L1566.0,1552.9 L1567.5,1553.3 L1569.0,1553.7 L1570.5,1554.1 L1572.0,1554.5 L1573.5,1555.0 L1575.0,1555.4 L1576.5,1555.8 L1578.0,1556.2 L1579.5,1556.6 L1581.0,1557.0 L1582.5,1557.4 L1584.0,1557.8 L1585.5,1558.2 L1587.0,1558.6 L1588.5,1559.0 L1590.0,1559.3 L1591.5,1559.7 L1593.0,1560.1 L1594.5,1560.5 L1596.0,1560.9 L1597.5,1561.2 L1599.0,1561.6 L1600.5,1562.0 L1602.0,1562.3 L1603.5,1562.7 L1605.0,1563.0 L1606.5,1563.4 L1608.0,1563.8 L1609.5,1564.1 L1611.0,1564.5 L1612.5,1564.8 L1614.0,1565.1 L1615.5,1565.5 L1617.0,1565.8 L1618.5,1566.2 L1620.0,1566.5 L1621.5,1566.8 L1623.0,1567.2 L1624.5,1567.5 L1626.0,1567.8 L1627.5,1568.1 L1629.0,1568.4 L1630.5,1568.8 L1632.0,1569.1 L1633.5,1569.4 L1635.0,1569.7 L1636.5,1570.0 L1638.0,1570.3 L1639.5,1570.6 L1641.0,1570.9 L1642.5,1571.2 L1644.0,1571.5 L1645.5,1571.8 L1647.0,1572.1 L1648.5,1572.4 L1650.0,1572.7 L1651.5,1573.0 L1653.0,1573.3 L1654.5,1573.6 L1656.0,1573.9 L1657.5,1574.1 L1659.0,1574.4 L1660.5,1574.7 L1662.0,1575.0 L1663.5,1575.3 L1665.0,1575.5 L1666.5,1575.8 L1668.0,1576.1 L1669.5,1576.3 L1671.0,1576.6 L1672.5,1576.9 L1674.0,1577.1 L1675.5,1577.4 L1677.0,1577.7 L1678.5,1577.9 L1680.0,1578.2 L1681.5,1578.4 L1683.0,1578.7 L1684.5,1578.9 L1686.0,1579.2 L1687.5,1579.4 L1689.0,1579.7 L1690.5,1579.9 L1692.0,1580.2 L1693.5,1580.4 L1695.0,1580.7 L1696.5,1580.9 L1698.0,1581.1 L1699.5,1581.4 L1701.0,1581.6 L1702.5,1581.8 L1704.0,1582.1 L1705.5,1582.3 L1707.0,1582.5 L1708.5,1582.8 L1710.0,1583.0 L1711.5,1583.2 L1713.0,1583.4 L1714.5,1583.7 L1716.0,1583.9 L1717.5,1584.1 L1719.0,1584.3 L1720.5,1584.5 L1722.0,1584.8 L1723.5,1585.0 L1725.0,1585.2 L1726.5,1585.4 L1728.0,1585.6 L1729.5,1585.8 L1731.0,1586.0 L1732.5,1586.2 L1734.0,1586.4 L1735.5,1586.6 L1737.0,1586.8 L1738.5,1587.0 L1740.0,1587.2 L1741.5,1587.4 L1743.0,1587.6 L1744.5,1587.8 L1746.0,1588.0 L1747.5,1588.2 L1749.0,1588.4 L1750.5,1588.6 L1752.0,1588.8 L1753.5,1589.0 L1755.0,1589.2 L1756.5,1589.4 L1758.0,1589.6 L1759.5,1589.8 L1761.0,1590.0 L1762.5,1590.2 L1764.0,1590.4 L1765.5,1590.6 L1767.0,1590.8 L1768.5,1590.9 L1770.0,1591.1 L1771.5,1591.3 L1773.0,1591.5 L1774.5,1591.7 L1776.0,1591.9 L1777.5,1592.1 L1779.0,1592.3 L1780.5,1592.4 L1782.0,1592.6 L1783.5,1592.8 L1785.0,1593.0 L1786.5,1593.2 L1788.0,1593.4 L1789.5,1593.6"/>
<path stroke="#ff0000" d="M297.0,1520.0 L298.5,1517.7 L300.0,1515.4 L301.5,1513.0 L303.0,1510.6 L304.5,1508.1 L306.0,1505.5 L307.5,1502.8 L309.0,1500.0 L310.5,1497.2 L312.0,1494.4 L313.5,1491.4 L315.0,1488.4 L316.5,1485.3 L318.0,1482.1 L319.5,1478.9 L321.0,1475.6 L322.5,1472.2 L324.0,1468.8 L325.5,1465.2 L327.0,1461.7 L328.5,1458.0 L330.0,1454.3 L331.5,1450.5 L333.0,1446.6 L334.5,1442.7 L336.0,1438.7 L337.5,1434.6 L339.0,1430.5 L340.5,1426.3 L342.0,1422.0 L343.5,1417.7 L345.0,1413.3 L346.5,1408.8 L348.0,1404.3 L349.5,1399.7 L351.0,1395.0 L352.5,1390.3 L354.0,1385.5 L355.5,1380.7 L357.0,1375.8 L358.5,1370.8 L360.0,1365.8 L361.5,1360.8 L363.0,1355.6 L364.5,1350.5 L366.0,1345.2 L367.5,1340.0 L369.0,1334.6 L370.5,1329.2 L372.0,1323.8 L373.5,1318.3 L375.0,1312.8 L376.5,1307.3 L378.0,1301.7 L379.5,1296.0 L381.0,1290.4 L382.5,1284.7 L384.0,1278.9 L385.5,1273.2 L387.0,1267.4 L388.5,1261.6 L390.0,1255.7 L391.5,1249.8 L393.0,1244.0 L394.5,1238.1 L396.0,1232.2 L397.5,1226.3 L399.0,1220.4 L400.5,1214.4 L402.0,1208.6 L403.5,1202.7 L405.0,1196.8 L406.5,1190.9 L408.0,1185.1 L409.5,1179.3 L411.0,1173.5 L412.5,1167.8 L414.0,1162.1 L415.5,1156.4 L417.0,1150.8 L418.5,1145.2 L420.0,1139.7 L421.5,1134.3 L423.0,1128.9 L424.5,1123.5 L426.0,1118.3 L427.5,1113.1 L429.0,1108.0 L430.5,1103.0 L432.0,1098.0 L433.5,1093.2 L435.0,1088.4 L436.5,1083.8 L438.0,1079.2 L439.5,1074.8 L441.0,1070.4 L442.5,1066.2 L444.0,1062.1 L445.5,1058.2 L447.0,1054.4 L448.5,1050.7 L450.0,1047.1 L451.5,1043.8 L453.0,1040.5 L454.5,1037.5 L456.0,1034.6 L457.5,1031.8 L459.0,1029.3 L460.5,1026.9 L462.0,1024.6 L463.5,1022.5 L465.0,1020.6 L466.5,1018.7 L468.0,1017.1 L469.5,1015.6 L471.0,1014.2 L472.5,1012.9 L474.0,1011.8 L475.5,1010.8 L477.0,1009.9 L478.5,1009.1 L480.0,1008.5 L481.5,1007.9 L483.0,1007.5 L484.5,1007.2 L486.0,1007.0 L487.5,1006.9 L489.0,1006.9 L490.5,1007.1 L492.0,1007.3 L493.5,1007.6 L495.0,1008.1 L496.5,1008.6 L498.0,1009.3 L499.5,1010.0 L501.0,1010.8 L502.5,1011.8 L504.0,1012.8 L505.5,1013.9 L507.0,1015.1 L508.5,1016.4 L510.0,1017.8 L511.5,1019.2 L513.0,1020.8 L514.5,1022.4 L516.0,1024.1 L517.5,1025.9 L519.0,1027.7 L520.5,1029.7 L522.0,1031.7 L523.5,1033.8 L525.0,1035.9 L526.5,1038.1 L528.0,1040.3 L529.5,1042.6 L531.0,1044.9 L532.5,1047.2 L534.0,1049.6 L535.5,1052.0 L537.0,1054.3 L538.5,1056.7 L540.0,1059.1 L541.5,1061.4 L543.0,1063.7 L544.5,1066.0 L546.0,1068.3 L547.5,1070.6 L549.0,1072.8 L550.5,1074.9 L552.0,1077.1 L553.5,1079.1 L555.0,1081.2 L556.5,1083.2 L558.0,1085.1 L559.5,1087.0 L561.0,1088.9 L562.5,1090.7 L564.0,1092.4 L565.5,1094.1 L567.0,1095.7 L568.5,1097.3 L570.0,1098.8 L571.5,1100.2 L573.0,1101.6 L574.5,1103.0 L576.0,1104.2 L577.5,1105.4 L579.0,1106.6 L580.5,1107.7 L582.0,1108.7 L583.5,1109.7 L585.0,1110.7 L586.5,1111.5 L588.0,1112.3 L589.5,1113.1 L591.0,1113.8 L592.5,1114.5 L594.0,1115.1 L595.5,1115.6 L597.0,1116.1 L598.5,1116.5 L600.0,1116.9 L601.5,1117.2 L603.0,1117.4 L604.5,1117.6 L606.0,1117.7 L607.5,1117.8 L609.0,1117.8 L610.5,1117.8 L612.0,1117.7 L613.5,1117.6 L615.0,1117.3 L616.5,1117.1 L618.0,1116.8 L619.5,1116.4 L621.0,1115.9 L622.5,1115.4 L624.0,1114.9 L625.5,1114.3 L627.0,1113.6 L628.5,1112.9 L630.0,1112.1 L631.5,1111.3 L633.0,1110.4 L634.5,1109.5 L636.0,1108.5 L637.5,1107.5 L639.0,1106.4 L640.5,1105.3 L642.0,1104.1 L643.5,1102.9 L645.0,1101.7 L646.5,1100.4 L648.0,1099.1 L649.5,1097.8 L651.0,1096.4 L652.5,1095.1 L654.0,1093.7 L655.5,1092.3 L657.0,1090.8 L658.5,1089.4 L660.0,1087.9 L661.5,1086.5 L663.0,1085.0 L664.5,1083.5 L666.0,1082.0 L667.5,1080.6 L669.0,1079.1 L670.5,1077.6 L672.0,1076.2 L673.5,1074.7 L675.0,1073.3 L676.5,1071.9 L678.0,1070.5 L679.5,1069.1 L681.0,1067.7 L682.5,1066.4 L684.0,1065.1 L685.5,1063.8 L687.0,1062.5 L688.5,1061.3 L690.0,1060.1 L691.5,1058.9 L693.0,1057.7 L694.5,1056.6 L696.0,1055.5 L697.5,1054.5 L699.0,1053.5 L700.5,1052.5 L702.0,1051.6 L703.5,1050.7 L705.0,1049.8 L706.5,1049.0 L708.0,1048.2 L709.5,1047.5 L711.0,1046.8 L712.5,1046.2 L714.0,1045.6 L715.5,1045.0 L717.0,1044.5 L718.5,1044.0 L720.0,1043.6 L721.5,1043.2 L723.0,1042.8 L724.5,1042.5 L726.0,1042.3 L727.5,1042.1 L729.0,1041.9 L730.5,1041.8 L732.0,1041.8 L733.5,1041.8 L735.0,1041.9 L736.5,1042.0 L738.0,1042.2 L739.5,1042.4 L741.0,1042.7 L742.5,1043.1 L744.0,1043.5 L745.5,1043.9 L747.0,1044.5 L748.5,1045.1 L750.0,1045.7 L751.5,1046.4 L753.0,1047.2 L754.5,1048.0 L756.0,1048.9 L757.5,1049.8 L759.0,1050.8 L760.5,1051.8 L762.0,1052.9 L763.5,1054.0 L765.0,1055.1 L766.5,1056.4 L768.0,1057.6 L769.5,1059.0 L771.0,1060.3 L772.5,1061.8 L774.0,1063.2 L775.5,1064.8 L777.0,1066.3 L778.5,1068.0 L780.0,1069.6 L781.5,1071.3 L783.0,1073.1 L784.5,1074.9 L786.0,1076.8 L787.5,1078.7 L789.0,1080.7 L790.5,1082.7 L792.0,1084.8 L793.5,1086.9 L795.0,1089.0 L796.5,1091.1 L798.0,1093.3 L799.5,1095.6 L801.0,1097.8 L802.5,1100.1 L804.0,1102.4 L805.5,1104.7 L807.0,1107.1 L808.5,1109.5 L810.0,1111.8 L811.5,1114.2 L813.0,1116.6 L814.5,1119.0 L816.0,1121.5 L817.5,1123.9 L819.0,1126.3 L820.5,1128.8 L822.0,1131.2 L823.5,1133.7 L825.0,1136.1 L826.5,1138.6 L828.0,1141.0 L829.5,1143.4 L831.0,1145.9 L832.5,1148.3 L834.0,1150.7 L835.5,1153.1 L837.0,1155.5 L838.5,1157.9 L840.0,1160.3 L841.5,1162.7 L843.0,1165.0 L844.5,1167.4 L846.0,1169.8 L847.5,1172.1 L849.0,1174.5 L850.5,1176.8 L852.0,1179.1 L853.5,1181.5 L855.0,1183.8 L856.5,1186.1 L858.0,1188.4 L859.5,1190.6 L861.0,1192.9 L862.5,1195.2 L864.0,1197.4 L865.5,1199.7 L867.0,1201.9 L868.5,1204.1 L870.0,1206.3 L871.5,1208.4 L873.0,1210.6 L874.5,1212.7 L876.0,1214.8 L877.5,1216.9 L879.0,1219.0 L880.5,1221.0 L882.0,1223.0 L883.5,1225.1 L885.0,1227.0 L886.5,1229.0 L888.0,1231.0 L889.5,1232.9 L891.0,1234.8 L892.5,1236.6 L894.0,1238.5 L895.5,1240.3 L897.0,1242.1 L898.5,1243.9 L900.0,1245.7 L901.5,1247.4 L903.0,1249.1 L904.5,1250.8 L906.0,1252.4 L907.5,1254.1 L909.0,1255.7 L910.5,1257.3 L912.0,1258.8 L913.5,1260.3 L915.0,1261.8 L916.5,1263.3 L918.0,1264.8 L919.5,1266.2 L921.0,1267.6 L922.5,1268.9 L924.0,1270.3 L925.5,1271.6 L927.0,1272.9 L928.5,1274.2 L930.0,1275.4 L931.5,1276.6 L933.0,1277.8 L934.5,1279.0 L936.0,1280.2 L937.5,1281.3 L939.0,1282.5 L940.5,1283.6 L942.0,1284.7 L943.5,1285.7 L945.0,1286.8 L946.5,1287.8 L948.0,1288.8 L949.5,1289.9 L951.0,1290.8 L952.5,1291.8 L954.0,1292.8 L955.5,1293.7 L957.0,1294.6 L958.5,1295.6 L960.0,1296.5 L961.5,1297.3 L963.0,1298.2 L964.5,1299.1 L966.0,1299.9 L967.5,1300.8 L969.0,1301.6 L970.5,1302.4 L972.0,1303.2 L973.5,1304.0 L975.0,1304.8 L976.5,1305.6 L978.0,1306.4 L979.5,1307.2 L981.0,1308.0 L982.5,1308.7 L984.0,1309.5 L985.5,1310.3 L987.0,1311.1 L988.5,1311.8 L990.0,1312.6 L991.5,1313.4 L993.0,1314.2 L994.5,1314.9 L996.0,1315.7 L997.5,1316.5 L999.0,1317.3 L1000.5,1318.0 L1002.0,1318.8 L1003.5,1319.6 L1005.0,1320.4 L1006.5,1321.2 L1008.0,1321.9 L1009.5,1322.7 L1011.0,1323.5 L1012.5,1324.3 L1014.0,1325.1 L1015.5,1325.9 L1017.0,1326.7 L1018.5,1327.5 L1020.0,1328.3 L1021.5,1329.1 L1023.0,1330.0 L1024.5,1330.8 L1026.0,1331.6 L1027.5,1332.4 L1029.0,1333.3 L1030.5,1334.1 L1032.0,1335.0 L1033.5,1335.8 L1035.0,1336.7 L1036.5,1337.5 L1038.0,1338.4 L1039.5,1339.3 L1041.0,1340.2 L1042.5,1341.0 L1044.0,1341.9 L1045.5,1342.8 L1047.0,1343.7 L1048.5,1344.7 L1050.0,1345.6 L1051.5,1346.5 L1053.0,1347.4 L1054.5,1348.4 L1056.0,1349.3 L1057.5,1350.3 L1059.0,1351.3 L1060.5,1352.3 L1062.0,1353.2 L1063.5,1354.2 L1065.0,1355.2 L1066.5,1356.3 L1068.0,1357.3 L1069.5,1358.3 L1071.0,1359.4 L1072.5,1360.4 L1074.0,1361.5 L1075.5,1362.5 L1077.0,1363.6 L1078.5,1364.7 L1080.0,1365.8 L1081.5,1366.9 L1083.0,1368.0 L1084.5,1369.2 L1086.0,1370.3 L1087.5,1371.4 L1089.0,1372.6 L1090.5,1373.7 L1092.0,1374.9 L1093.5,1376.0 L1095.0,1377.2 L1096.5,1378.3 L1098.0,1379.5 L1099.5,1380.7 L1101.0,1381.9 L1102.5,1383.0 L1104.0,1384.2 L1105.5,1385.4 L1107.0,1386.6 L1108.5,1387.8 L1110.0,1389.0 L1111.5,1390.2 L1113.0,1391.4 L1114.5,1392.6 L1116.0,1393.8 L1117.5,1395.0 L1119.0,1396.2 L1120.5,1397.3 L1122.0,1398.5 L1123.5,1399.7 L1125.0,1400.9 L1126.5,1402.1 L1128.0,1403.3 L1129.5,1404.5 L1131.0,1405.7 L1132.5,1406.9 L1134.0,1408.1 L1135.5,1409.3 L1137.0,1410.5 L1138.5,1411.6 L1140.0,1412.8 L1141.5,1414.0 L1143.0,1415.2 L1144.5,1416.4 L1146.0,1417.5 L1147.5,1418.7 L1149.0,1419.9 L1150.5,1421.1 L1152.0,1422.2 L1153.5,1423.4 L1155.0,1424.6 L1156.5,1425.7 L1158.0,1426.9 L1159.5,1428.0 L1161.0,1429.2 L1162.5,1430.3 L1164.0,1431.5 L1165.5,1432.6 L1167.0,1433.8 L1168.5,1434.9 L1170.0,1436.0 L1171.5,1437.2 L1173.0,1438.3 L1174.5,1439.4 L1176.0,1440.5 L1177.5,1441.7 L1179.0,1442.8 L1180.5,1443.9 L1182.0,1445.0 L1183.5,1446.1 L1185.0,1447.2 L1186.5,1448.3 L1188.0,1449.4 L1189.5,1450.4 L1191.0,1451.5 L1192.5,1452.6 L1194.0,1453.6 L1195.5,1454.7 L1197.0,1455.8 L1198.5,1456.8 L1200.0,1457.9 L1201.5,1458.9 L1203.0,1459.9 L1204.5,1461.0 L1206.0,1462.0 L1207.5,1463.0 L1209.0,1464.0 L1210.5,1465.0 L1212.0,1466.0 L1213.5,1467.0 L1215.0,1468.0 L1216.5,1469.0 L1218.0,1469.9 L1219.5,1470.9 L1221.0,1471.8 L1222.5,1472.8 L1224.0,1473.7 L1225.5,1474.6 L1227.0,1475.5 L1228.5,1476.5 L1230.0,1477.3 L1231.5,1478.2 L1233.0,1479.1 L1234.5,1480.0 L1236.0,1480.8 L1237.5,1481.7 L1239.0,1482.5 L1240.5,1483.3 L1242.0,1484.1 L1243.5,1484.9 L1245.0,1485.7 L1246.5,1486.5 L1248.0,1487.2 L1249.5,1488.0 L1251.0,1488.7 L1252.5,1489.5 L1254.0,1490.2 L1255.5,1490.9 L1257.0,1491.6 L1258.5,1492.2 L1260.0,1492.9 L1261.5,1493.6 L1263.0,1494.2 L1264.5,1494.9 L1266.0,1495.5 L1267.5,1496.1 L1269.0,1496.7 L1270.5,1497.4 L1272.0,1498.0 L1273.5,1498.6 L1275.0,1499.1 L1276.5,1499.7 L1278.0,1500.3 L1279.5,1500.9 L1281.0,1501.4 L1282.5,1502.0 L1284.0,1502.5 L1285.5,1503.1 L1287.0,1503.6 L1288.5,1504.1 L1290.0,1504.7 L1291.5,1505.2 L1293.0,1505.7 L1294.5,1506.2 L1296.0,1506.8 L1297.5,1507.3 L1299.0,1507.8 L1300.5,1508.3 L1302.0,1508.8 L1303.5,1509.3 L1305.0,1509.8 L1306.5,1510.3 L1308.0,1510.8 L1309.5,1511.2 L1311.0,1511.7 L1312.5,1512.2 L1314.0,1512.7 L1315.5,1513.2 L1317.0,1513.6 L1318.5,1514.1 L1320.0,1514.6 L1321.5,1515.0 L1323.0,1515.5 L1324.5,1516.0 L1326.0,1516.4 L1327.5,1516.9 L1329.0,1517.3 L1330.5,1517.8 L1332.0,1518.2 L1333.5,1518.7 L1335.0,1519.1 L1336.5,1519.5 L1338.0,1520.0 L1339.5,1520.4 L1341.0,1520.8 L1342.5,1521.3 L1344.0,1521.7 L1345.5,1522.1 L1347.0,1522.6 L1348.5,1523.0 L1350.0,1523.4 L1351.5,1523.8 L1353.0,1524.3 L1354.5,1524.7 L1356.0,1525.1 L1357.5,1525.5 L1359.0,1525.9 L1360.5,1526.3 L1362.0,1526.8 L1363.5,1527.2 L1365.0,1527.6 L1366.5,1528.0 L1368.0,1528.4 L1369.5,1528.8 L1371.0,1529.2 L1372.5,1529.6 L1374.0,1530.0 L1375.5,1530.4 L1377.0,1530.8 L1378.5,1531.2 L1380.0,1531.6 L1381.5,1532.0 L1383.0,1532.4 L1384.5,1532.8 L1386.0,1533.2 L1387.5,1533.6 L1389.0,1534.0 L1390.5,1534.4 L1392.0,1534.8 L1393.5,1535.2 L1395.0,1535.6 L1396.5,1536.0 L1398.0,1536.4 L1399.5,1536.8 L1401.0,1537.2 L1402.5,1537.6 L1404.0,1538.0 L1405.5,1538.3 L1407.0,1538.7 L1408.5,1539.1 L1410.0,1539.5 L1411.5,1539.9 L1413.0,1540.3 L1414.5,1540.7 L1416.0,1541.1 L1417.5,1541.4 L1419.0,1541.8 L1420.5,1542.2 L1422.0,1542.6 L1423.5,1543.0 L1425.0,1543.4 L1426.5,1543.7 L1428.0,1544.1 L1429.5,1544.5 L1431.0,1544.9 L1432.5,1545.3 L1434.0,1545.6 L1435.5,1546.0 L1437.0,1546.4 L1438.5,1546.8 L1440.0,1547.1 L1441.5,1547.5 L1443.0,1547.9 L1444.5,1548.3 L1446.0,1548.7 L1447.5,1549.0 L1449.0,1549.4 L1450.5,1549.8 L1452.0,1550.2 L1453.5,1550.5 L1455.0,1550.9 L1456.5,1551.3 L1458.0,1551.6 L1459.5,1552.0 L1461.0,1552.4 L1462.5,1552.8 L1464.0,1553.1 L1465.5,1553.5 L1467.0,1553.9 L1468.5,1554.2 L1470.0,1554.6 L1471.5,1555.0 L1473.0,1555.3 L1474.5,1555.7 L1476.0,1556.1 L1477.5,1556.4 L1479.0,1556.8 L1480.5,1557.1 L1482.0,1557.5 L1483.5,1557.9 L1485.0,1558.2 L1486.5,1558.6 L1488.0,1558.9 L1489.5,1559.3 L1491.0,1559.7 L1492.5,1560.0 L1494.0,1560.4 L1495.5,1560.7 L1497.0,1561.1 L1498.5,1561.4 L1500.0,1561.8 L1501.5,1562.1 L1503.0,1562.5 L1504.5,1562.8 L1506.0,1563.2 L1507.5,1563.5 L1509.0,1563.9 L1510.5,1564.2 L1512.0,1564.5 L1513.5,1564.9 L1515.0,1565.2 L1516.5,1565.6 L1518.0,1565.9 L1519.5,1566.2 L1521.0,1566.6 L1522.5,1566.9 L1524.0,1567.2 L1525.5,1567.6 L1527.0,1567.9 L1528.5,1568.2 L1530.0,1568.6 L1531.5,1568.9 L1533.0,1569.2 L1534.5,1569.5 L1536.0,1569.9 L1537.5,1570.2 L1539.0,1570.5 L1540.5,1570.8 L1542.0,1571.1 L1543.5,1571.4 L1545.0,1571.8 L1546.5,1572.1 L1548.0,1572.4 L1549.5,1572.7 L1551.0,1573.0 L1552.5,1573.3 L1554.0,1573.6 L1555.5,1573.9 L1557.0,1574.2 L1558.5,1574.5 L1560.0,1574.8 L1561.5,1575.1 L1563.0,1575.4 L1564.5,1575.7 L1566.0,1576.0 L1567.5,1576.3 L1569.0,1576.5 L1570.5,1576.8 L1572.0,1577.1 L1573.5,1577.4 L1575.0,1577.7 L1576.5,1577.9 L1578.0,1578.2 L1579.5,1578.5 L1581.0,1578.8 L1582.5,1579.0 L1584.0,1579.3 L1585.5,1579.6 L1587.0,1579.8 L1588.5,1580.1 L1590.0,1580.3 L1591.5,1580.6 L1593.0,1580.9 L1594.5,1581.1 L1596.0,1581.4 L1597.5,1581.6 L1599.0,1581.9 L1600.5,1582.1 L1602.0,1582.3 L1603.5,1582.6 L1605.0,1582.8 L1606.5,1583.1 L1608.0,1583.3 L1609.5,1583.5 L1611.0,1583.8 L1612.5,1584.0 L1614.0,1584.2 L1615.5,1584.5 L1617.0,1584.7 L1618.5,1584.9 L1620.0,1585.1 L1621.5,1585.4 L1623.0,1585.6 L1624.5,1585.8 L1626.0,1586.0 L1627.5,1586.2 L1629.0,1586.4 L1630.5,1586.6 L1632.0,1586.8 L1633.5,1587.1 L1635.0,1587.3 L1636.5,1587.5 L1638.0,1587.7 L1639.5,1587.9 L1641.0,1588.1 L1642.5,1588.3 L1644.0,1588.5 L1645.5,1588.6 L1647.0,1588.8 L1648.5,1589.0 L1650.0,1589.2 L1651.5,1589.4 L1653.0,1589.6 L1654.5,1589.8 L1656.0,1590.0 L1657.5,1590.1 L1659.0,1590.3 L1660.5,1590.5 L1662.0,1590.7 L1663.5,1590.9 L1665.0,1591.0 L1666.5,1591.2 L1668.0,1591.4 L1669.5,1591.5 L1671.0,1591.7 L1672.5,1591.9 L1674.0,1592.0 L1675.5,1592.2 L1677.0,1592.4 L1678.5,1592.5 L1680.0,1592.7 L1681.5,1592.8 L1683.0,1593.0 L1684.5,1593.2 L1686.0,1593.3 L1687.5,1593.5 L1689.0,1593.6 L1690.5,1593.8 L1692.0,1593.9 L1693.5,1594.1 L1695.0,1594.2 L1696.5,1594.3 L1698.0,1594.5 L1699.5,1594.6 L1701.0,1594.8 L1702.5,1594.9 L1704.0,1595.1 L1705.5,1595.2 L1707.0,1595.3 L1708.5,1595.5 L1710.0,1595.6 L1711.5,1595.7 L1713.0,1595.9 L1714.5,1596.0 L1716.0,1596.1 L1717.5,1596.2 L1719.0,1596.4 L1720.5,1596.5 L1722.0,1596.6 L1723.5,1596.7 L1725.0,1596.9 L1726.5,1597.0 L1728.0,1597.1 L1729.5,1597.2 L1731.0,1597.4 L1732.5,1597.5 L1734.0,1597.6 L1735.5,1597.7 L1737.0,1597.8 L1738.5,1597.9 L1740.0,1598.0 L1741.5,1598.1 L1743.0,1598.3 L1744.5,1598.4 L1746.0,1598.5 L1747.5,1598.6 L1749.0,1598.7 L1750.5,1598.8 L1752.0,1598.9 L1753.5,1599.0 L1755.0,1599.1 L1756.5,1599.2 L1758.0,1599.3 L1759.5,1599.4 L1761.0,1599.5 L1762.5,1599.6 L1764.0,1599.7 L1765.5,1599.8 L1767.0,1599.9 L1768.5,1600.0 L1770.0,1600.1 L1771.5,1600.2 L1773.0,1600.3 L1774.5,1600.4 L1776.0,1600.5 L1777.5,1600.6 L1779.0,1600.6 L1780.5,1600.7 L1782.0,1600.8 L1783.5,1600.9 L1785.0,1601.0 L1786.5,1601.1 L1788.0,1601.2 L1789.5,1601.3"/>
<path stroke="#0000ff" d="M297.0,1528.6 L298.5,1526.9 L300.0,1525.1 L301.5,1523.2 L303.0,1521.3 L304.5,1519.2 L306.0,1517.1 L307.5,1514.9 L309.0,1512.7 L310.5,1510.3 L312.0,1507.9 L313.5,1505.3 L315.0,1502.7 L316.5,1500.1 L318.0,1497.3 L319.5,1494.5 L321.0,1491.6 L322.5,1488.6 L324.0,1485.5 L325.5,1482.3 L327.0,1479.1 L328.5,1475.8 L330.0,1472.4 L331.5,1468.9 L333.0,1465.4 L334.5,1461.8 L336.0,1458.1 L337.5,1454.4 L339.0,1450.5 L340.5,1446.6 L342.0,1442.7 L343.5,1438.7 L345.0,1434.6 L346.5,1430.4 L348.0,1426.2 L349.5,1421.9 L351.0,1417.6 L352.5,1413.2 L354.0,1408.8 L355.5,1404.3 L357.0,1399.7 L358.5,1395.1 L360.0,1390.4 L361.5,1385.7 L363.0,1381.0 L364.5,1376.2 L366.0,1371.3 L367.5,1366.5 L369.0,1361.6 L370.5,1356.6 L372.0,1351.6 L373.5,1346.6 L375.0,1341.5 L376.5,1336.4 L378.0,1331.3 L379.5,1326.2 L381.0,1321.0 L382.5,1315.8 L384.0,1310.6 L385.5,1305.3 L387.0,1300.1 L388.5,1294.8 L390.0,1289.5 L391.5,1284.2 L393.0,1278.9 L394.5,1273.6 L396.0,1268.2 L397.5,1262.9 L399.0,1257.6 L400.5,1252.3 L402.0,1247.0 L403.5,1241.7 L405.0,1236.4 L406.5,1231.1 L408.0,1225.9 L409.5,1220.7 L411.0,1215.5 L412.5,1210.3 L414.0,1205.2 L415.5,1200.1 L417.0,1195.0 L418.5,1190.0 L420.0,1185.0 L421.5,1180.1 L423.0,1175.3 L424.5,1170.5 L426.0,1165.8 L427.5,1161.1 L429.0,1156.6 L430.5,1152.1 L432.0,1147.7 L433.5,1143.3 L435.0,1139.1 L436.5,1135.0 L438.0,1130.9 L439.5,1127.0 L441.0,1123.2 L442.5,1119.5 L444.0,1115.9 L445.5,1112.4 L447.0,1109.1 L448.5,1105.9 L450.0,1102.9 L451.5,1100.0 L453.0,1097.3 L454.5,1094.7 L456.0,1092.3 L457.5,1090.1 L459.0,1088.0 L460.5,1086.1 L462.0,1084.3 L463.5,1082.7 L465.0,1081.2 L466.5,1079.8 L468.0,1078.6 L469.5,1077.5 L471.0,1076.5 L472.5,1075.6 L474.0,1074.8 L475.5,1074.2 L477.0,1073.6 L478.5,1073.1 L480.0,1072.7 L481.5,1072.4 L483.0,1072.2 L484.5,1072.1 L486.0,1072.0 L487.5,1072.1 L489.0,1072.2 L490.5,1072.5 L492.0,1072.8 L493.5,1073.2 L495.0,1073.7 L496.5,1074.2 L498.0,1074.9 L499.5,1075.6 L501.0,1076.5 L502.5,1077.4 L504.0,1078.4 L505.5,1079.4 L507.0,1080.5 L508.5,1081.7 L510.0,1083.0 L511.5,1084.3 L513.0,1085.7 L514.5,1087.2 L516.0,1088.7 L517.5,1090.2 L519.0,1091.8 L520.5,1093.5 L522.0,1095.2 L523.5,1096.9 L525.0,1098.6 L526.5,1100.4 L528.0,1102.3 L529.5,1104.1 L531.0,1106.0 L532.5,1107.9 L534.0,1109.8 L535.5,1111.7 L537.0,1113.6 L538.5,1115.5 L540.0,1117.5 L541.5,1119.4 L543.0,1121.3 L544.5,1123.2 L546.0,1125.1 L547.5,1127.0 L549.0,1128.9 L550.5,1130.7 L552.0,1132.5 L553.5,1134.3 L555.0,1136.1 L556.5,1137.9 L558.0,1139.6 L559.5,1141.3 L561.0,1142.9 L562.5,1144.6 L564.0,1146.2 L565.5,1147.7 L567.0,1149.2 L568.5,1150.7 L570.0,1152.2 L571.5,1153.5 L573.0,1154.9 L574.5,1156.2 L576.0,1157.4 L577.5,1158.6 L579.0,1159.8 L580.5,1160.9 L582.0,1161.9 L583.5,1162.9 L585.0,1163.9 L586.5,1164.7 L588.0,1165.6 L589.5,1166.3 L591.0,1167.0 L592.5,1167.7 L594.0,1168.2 L595.5,1168.8 L597.0,1169.2 L598.5,1169.6 L600.0,1169.9 L601.5,1170.2 L603.0,1170.4 L604.5,1170.6 L606.0,1170.6 L607.5,1170.6 L609.0,1170.6 L610.5,1170.5 L612.0,1170.3 L613.5,1170.1 L615.0,1169.8 L616.5,1169.4 L618.0,1169.0 L619.5,1168.6 L621.0,1168.0 L622.5,1167.5 L624.0,1166.9 L625.5,1166.2 L627.0,1165.5 L628.5,1164.8 L630.0,1164.0 L631.5,1163.2 L633.0,1162.4 L634.5,1161.5 L636.0,1160.6 L637.5,1159.6 L639.0,1158.7 L640.5,1157.7 L642.0,1156.7 L643.5,1155.6 L645.0,1154.6 L646.5,1153.5 L648.0,1152.4 L649.5,1151.3 L651.0,1150.1 L652.5,1149.0 L654.0,1147.9 L655.5,1146.7 L657.0,1145.6 L658.5,1144.4 L660.0,1143.2 L661.5,1142.1 L663.0,1140.9 L664.5,1139.7 L666.0,1138.5 L667.5,1137.3 L669.0,1136.1 L670.5,1135.0 L672.0,1133.8 L673.5,1132.6 L675.0,1131.4 L676.5,1130.3 L678.0,1129.1 L679.5,1128.0 L681.0,1126.8 L682.5,1125.7 L684.0,1124.6 L685.5,1123.5 L687.0,1122.4 L688.5,1121.3 L690.0,1120.2 L691.5,1119.2 L693.0,1118.2 L694.5,1117.2 L696.0,1116.2 L697.5,1115.3 L699.0,1114.4 L700.5,1113.5 L702.0,1112.6 L703.5,1111.8 L705.0,1111.0 L706.5,1110.2 L708.0,1109.5 L709.5,1108.8 L711.0,1108.2 L712.5,1107.6 L714.0,1107.0 L715.5,1106.5 L717.0,1106.0 L718.5,1105.6 L720.0,1105.2 L721.5,1104.9 L723.0,1104.6 L724.5,1104.3 L726.0,1104.1 L727.5,1104.0 L729.0,1103.9 L730.5,1103.8 L732.0,1103.8 L733.5,1103.9 L735.0,1104.0 L736.5,1104.1 L738.0,1104.3 L739.5,1104.6 L741.0,1104.9 L742.5,1105.2 L744.0,1105.6 L745.5,1106.1 L747.0,1106.6 L748.5,1107.1 L750.0,1107.7 L751.5,1108.4 L753.0,1109.1 L754.5,1109.9 L756.0,1110.7 L757.5,1111.5 L759.0,1112.4 L760.5,1113.4 L762.0,1114.4 L763.5,1115.4 L765.0,1116.5 L766.5,1117.7 L768.0,1118.8 L769.5,1120.1 L771.0,1121.3 L772.5,1122.7 L774.0,1124.0 L775.5,1125.4 L777.0,1126.9 L778.5,1128.4 L780.0,1129.9 L781.5,1131.4 L783.0,1133.0 L784.5,1134.6 L786.0,1136.3 L787.5,1138.0 L789.0,1139.7 L790.5,1141.5 L792.0,1143.3 L793.5,1145.1 L795.0,1147.0 L796.5,1148.9 L798.0,1150.8 L799.5,1152.7 L801.0,1154.7 L802.5,1156.7 L804.0,1158.7 L805.5,1160.8 L807.0,1162.9 L808.5,1165.0 L810.0,1167.1 L811.5,1169.3 L813.0,1171.4 L814.5,1173.6 L816.0,1175.8 L817.5,1178.0 L819.0,1180.3 L820.5,1182.5 L822.0,1184.7 L823.5,1187.0 L825.0,1189.2 L826.5,1191.5 L828.0,1193.7 L829.5,1196.0 L831.0,1198.2 L832.5,1200.4 L834.0,1202.7 L835.5,1204.9 L837.0,1207.1 L838.5,1209.3 L840.0,1211.6 L841.5,1213.8 L843.0,1215.9 L844.5,1218.1 L846.0,1220.3 L847.5,1222.5 L849.0,1224.6 L850.5,1226.8 L852.0,1228.9 L853.5,1231.1 L855.0,1233.2 L856.5,1235.3 L858.0,1237.4 L859.5,1239.5 L861.0,1241.5 L862.5,1243.6 L864.0,1245.6 L865.5,1247.6 L867.0,1249.6 L868.5,1251.6 L870.0,1253.5 L871.5,1255.5 L873.0,1257.4 L874.5,1259.3 L876.0,1261.1 L877.5,1263.0 L879.0,1264.8 L880.5,1266.6 L882.0,1268.3 L883.5,1270.1 L885.0,1271.8 L886.5,1273.5 L888.0,1275.2 L889.5,1276.9 L891.0,1278.5 L892.5,1280.1 L894.0,1281.7 L895.5,1283.3 L897.0,1284.8 L898.5,1286.3 L900.0,1287.8 L901.5,1289.3 L903.0,1290.8 L904.5,1292.2 L906.0,1293.6 L907.5,1295.0 L909.0,1296.4 L910.5,1297.8 L912.0,1299.1 L913.5,1300.5 L915.0,1301.8 L916.5,1303.1 L918.0,1304.3 L919.5,1305.6 L921.0,1306.8 L922.5,1308.1 L924.0,1309.3 L925.5,1310.5 L927.0,1311.7 L928.5,1312.8 L930.0,1314.0 L931.5,1315.1 L933.0,1316.2 L934.5,1317.3 L936.0,1318.4 L937.5,1319.5 L939.0,1320.5 L940.5,1321.6 L942.0,1322.6 L943.5,1323.6 L945.0,1324.6 L946.5,1325.6 L948.0,1326.5 L949.5,1327.5 L951.0,1328.4 L952.5,1329.3 L954.0,1330.2 L955.5,1331.1 L957.0,1332.0 L958.5,1332.8 L960.0,1333.7 L961.5,1334.5 L963.0,1335.3 L964.5,1336.1 L966.0,1336.9 L967.5,1337.7 L969.0,1338.4 L970.5,1339.2 L972.0,1339.9 L973.5,1340.7 L975.0,1341.4 L976.5,1342.1 L978.0,1342.8 L979.5,1343.5 L981.0,1344.2 L982.5,1345.0 L984.0,1345.7 L985.5,1346.4 L987.0,1347.1 L988.5,1347.7 L990.0,1348.4 L991.5,1349.1 L993.0,1349.8 L994.5,1350.5 L996.0,1351.2 L997.5,1351.9 L999.0,1352.6 L1000.5,1353.3 L1002.0,1354.0 L1003.5,1354.7 L1005.0,1355.4 L1006.5,1356.1 L1008.0,1356.8 L1009.5,1357.5 L1011.0,1358.2 L1012.5,1358.9 L1014.0,1359.6 L1015.5,1360.3 L1017.0,1361.0 L1018.5,1361.7 L1020.0,1362.4 L1021.5,1363.1 L1023.0,1363.8 L1024.5,1364.5 L1026.0,1365.2 L1027.5,1366.0 L1029.0,1366.7 L1030.5,1367.4 L1032.0,1368.2 L1033.5,1368.9 L1035.0,1369.7 L1036.5,1370.4 L1038.0,1371.2 L1039.5,1371.9 L1041.0,1372.7 L1042.5,1373.5 L1044.0,1374.2 L1045.5,1375.0 L1047.0,1375.8 L1048.5,1376.6 L1050.0,1377.4 L1051.5,1378.2 L1053.0,1379.0 L1054.5,1379.8 L1056.0,1380.6 L1057.5,1381.4 L1059.0,1382.3 L1060.5,1383.1 L1062.0,1383.9 L1063.5,1384.8 L1065.0,1385.6 L1066.5,1386.5 L1068.0,1387.4 L1069.5,1388.2 L1071.0,1389.1 L1072.5,1390.0 L1074.0,1390.9 L1075.5,1391.8 L1077.0,1392.7 L1078.5,1393.6 L1080.0,1394.5 L1081.5,1395.5 L1083.0,1396.4 L1084.5,1397.3 L1086.0,1398.3 L1087.5,1399.2 L1089.0,1400.2 L1090.5,1401.1 L1092.0,1402.1 L1093.5,1403.1 L1095.0,1404.0 L1096.5,1405.0 L1098.0,1406.0 L1099.5,1407.0 L1101.0,1408.0 L1102.5,1409.0 L1104.0,1410.0 L1105.5,1411.0 L1107.0,1412.0 L1108.5,1413.0 L1110.0,1414.0 L1111.5,1415.0 L1113.0,1416.0 L1114.5,1417.0 L1116.0,1418.1 L1117.5,1419.1 L1119.0,1420.1 L1120.5,1421.1 L1122.0,1422.2 L1123.5,1423.2 L1125.0,1424.2 L1126.5,1425.2 L1128.0,1426.3 L1129.5,1427.3 L1131.0,1428.3 L1132.5,1429.4 L1134.0,1430.4 L1135.5,1431.4 L1137.0,1432.5 L1138.5,1433.5 L1140.0,1434.5 L1141.5,1435.6 L1143.0,1436.6 L1144.5,1437.6 L1146.0,1438.7 L1147.5,1439.7 L1149.0,1440.7 L1150.5,1441.8 L1152.0,1442.8 L1153.5,1443.8 L1155.0,1444.8 L1156.5,1445.9 L1158.0,1446.9 L1159.5,1447.9 L1161.0,1448.9 L1162.5,1449.9 L1164.0,1450.9 L1165.5,1452.0 L1167.0,1453.0 L1168.5,1454.0 L1170.0,1455.0 L1171.5,1456.0 L1173.0,1456.9 L1174.5,1457.9 L1176.0,1458.9 L1177.5,1459.9 L1179.0,1460.9 L1180.5,1461.8 L1182.0,1462.8 L1183.5,1463.8 L1185.0,1464.7 L1186.5,1465.7 L1188.0,1466.6 L1189.5,1467.6 L1191.0,1468.5 L1192.5,1469.4 L1194.0,1470.4 L1195.5,1471.3 L1197.0,1472.2 L1198.5,1473.1 L1200.0,1474.0 L1201.5,1474.9 L1203.0,1475.8 L1204.5,1476.7 L1206.0,1477.6 L1207.5,1478.4 L1209.0,1479.3 L1210.5,1480.2 L1212.0,1481.0 L1213.5,1481.9 L1215.0,1482.7 L1216.5,1483.5 L1218.0,1484.3 L1219.5,1485.1 L1221.0,1486.0 L1222.5,1486.7 L1224.0,1487.5 L1225.5,1488.3 L1227.0,1489.1 L1228.5,1489.9 L1230.0,1490.6 L1231.5,1491.4 L1233.0,1492.1 L1234.5,1492.8 L1236.0,1493.5 L1237.5,1494.3 L1239.0,1495.0 L1240.5,1495.6 L1242.0,1496.3 L1243.5,1497.0 L1245.0,1497.7 L1246.5,1498.3 L1248.0,1499.0 L1249.5,1499.6 L1251.0,1500.2 L1252.5,1500.8 L1254.0,1501.5 L1255.5,1502.1 L1257.0,1502.6 L1258.5,1503.2 L1260.0,1503.8 L1261.5,1504.4 L1263.0,1504.9 L1264.5,1505.5 L1266.0,1506.0 L1267.5,1506.6 L1269.0,1507.1 L1270.5,1507.6 L1272.0,1508.2 L1273.5,1508.7 L1275.0,1509.2 L1276.5,1509.7 L1278.0,1510.2 L1279.5,1510.7 L1281.0,1511.2 L1282.5,1511.7 L1284.0,1512.1 L1285.5,1512.6 L1287.0,1513.1 L1288.5,1513.6 L1290.0,1514.0 L1291.5,1514.5 L1293.0,1515.0 L1294.5,1515.4 L1296.0,1515.9 L1297.5,1516.3 L1299.0,1516.8 L1300.5,1517.2 L1302.0,1517.7 L1303.5,1518.1 L1305.0,1518.6 L1306.5,1519.0 L1308.0,1519.4 L1309.5,1519.9 L1311.0,1520.3 L1312.5,1520.7 L1314.0,1521.2 L1315.5,1521.6 L1317.0,1522.0 L1318.5,1522.4 L1320.0,1522.9 L1321.5,1523.3 L1323.0,1523.7 L1324.5,1524.1 L1326.0,1524.5 L1327.5,1524.9 L1329.0,1525.4 L1330.5,1525.8 L1332.0,1526.2 L1333.5,1526.6 L1335.0,1527.0 L1336.5,1527.4 L1338.0,1527.8 L1339.5,1528.2 L1341.0,1528.6 L1342.5,1529.0 L1344.0,1529.4 L1345.5,1529.7 L1347.0,1530.1 L1348.5,1530.5 L1350.0,1530.9 L1351.5,1531.3 L1353.0,1531.7 L1354.5,1532.1 L1356.0,1532.5 L1357.5,1532.8 L1359.0,1533.2 L1360.5,1533.6 L1362.0,1534.0 L1363.5,1534.3 L1365.0,1534.7 L1366.5,1535.1 L1368.0,1535.5 L1369.5,1535.8 L1371.0,1536.2 L1372.5,1536.6 L1374.0,1537.0 L1375.5,1537.3 L1377.0,1537.7 L1378.5,1538.1 L1380.0,1538.4 L1381.5,1538.8 L1383.0,1539.2 L1384.5,1539.5 L1386.0,1539.9 L1387.5,1540.3 L1389.0,1540.6 L1390.5,1541.0 L1392.0,1541.3 L1393.5,1541.7 L1395.0,1542.1 L1396.5,1542.4 L1398.0,1542.8 L1399.5,1543.1 L1401.0,1543.5 L1402.5,1543.9 L1404.0,1544.2 L1405.5,1544.6 L1407.0,1544.9 L1408.5,1545.3 L1410.0,1545.6 L1411.5,1546.0 L1413.0,1546.3 L1414.5,1546.7 L1416.0,1547.0 L1417.5,1547.4 L1419.0,1547.7 L1420.5,1548.1 L1422.0,1548.5 L1423.5,1548.8 L1425.0,1549.2 L1426.5,1549.5 L1428.0,1549.9 L1429.5,1550.2 L1431.0,1550.6 L1432.5,1550.9 L1434.0,1551.3 L1435.5,1551.6 L1437.0,1552.0 L1438.5,1552.3 L1440.0,1552.7 L1441.5,1553.0 L1443.0,1553.4 L1444.5,1553.7 L1446.0,1554.1 L1447.5,1554.4 L1449.0,1554.8 L1450.5,1555.1 L1452.0,1555.5 L1453.5,1555.8 L1455.0,1556.2 L1456.5,1556.5 L1458.0,1556.8 L1459.5,1557.2 L1461.0,1557.5 L1462.5,1557.9 L1464.0,1558.2 L1465.5,1558.6 L1467.0,1558.9 L1468.5,1559.3 L1470.0,1559.6 L1471.5,1559.9 L1473.0,1560.3 L1474.5,1560.6 L1476.0,1561.0 L1477.5,1561.3 L1479.0,1561.7 L1480.5,1562.0 L1482.0,1562.3 L1483.5,1562.7 L1485.0,1563.0 L1486.5,1563.3 L1488.0,1563.7 L1489.5,1564.0 L1491.0,1564.3 L1492.5,1564.7 L1494.0,1565.0 L1495.5,1565.3 L1497.0,1565.7 L1498.5,1566.0 L1500.0,1566.3 L1501.5,1566.7 L1503.0,1567.0 L1504.5,1567.3 L1506.0,1567.6 L1507.5,1568.0 L1509.0,1568.3 L1510.5,1568.6 L1512.0,1568.9 L1513.5,1569.3 L1515.0,1569.6 L1516.5,1569.9 L1518.0,1570.2 L1519.5,1570.5 L1521.0,1570.8 L1522.5,1571.1 L1524.0,1571.5 L1525.5,1571.8 L1527.0,1572.1 L1528.5,1572.4 L1530.0,1572.7 L1531.5,1573.0 L1533.0,1573.3 L1534.5,1573.6 L1536.0,1573.9 L1537.5,1574.2 L1539.0,1574.5 L1540.5,1574.8 L1542.0,1575.1 L1543.5,1575.4 L1545.0,1575.7 L1546.5,1576.0 L1548.0,1576.3 L1549.5,1576.5 L1551.0,1576.8 L1552.5,1577.1 L1554.0,1577.4 L1555.5,1577.7 L1557.0,1578.0 L1558.5,1578.2 L1560.0,1578.5 L1561.5,1578.8 L1563.0,1579.1 L1564.5,1579.3 L1566.0,1579.6 L1567.5,1579.9 L1569.0,1580.1 L1570.5,1580.4 L1572.0,1580.6 L1573.5,1580.9 L1575.0,1581.2 L1576.5,1581.4 L1578.0,1581.7 L1579.5,1581.9 L1581.0,1582.2 L1582.5,1582.4 L1584.0,1582.6 L1585.5,1582.9 L1587.0,1583.1 L1588.5,1583.4 L1590.0,1583.6 L1591.5,1583.8 L1593.0,1584.1 L1594.5,1584.3 L1596.0,1584.5 L1597.5,1584.7 L1599.0,1585.0 L1600.5,1585.2 L1602.0,1585.4 L1603.5,1585.6 L1605.0,1585.8 L1606.5,1586.0 L1608.0,1586.3 L1609.5,1586.5 L1611.0,1586.7 L1612.5,1586.9 L1614.0,1587.1 L1615.5,1587.3 L1617.0,1587.5 L1618.5,1587.7 L1620.0,1587.9 L1621.5,1588.1 L1623.0,1588.3 L1624.5,1588.5 L1626.0,1588.7 L1627.5,1588.9 L1629.0,1589.1 L1630.5,1589.2 L1632.0,1589.4 L1633.5,1589.6 L1635.0,1589.8 L1636.5,1590.0 L1638.0,1590.2 L1639.5,1590.3 L1641.0,1590.5 L1642.5,1590.7 L1644.0,1590.9 L1645.5,1591.0 L1647.0,1591.2 L1648.5,1591.4 L1650.0,1591.6 L1651.5,1591.7 L1653.0,1591.9 L1654.5,1592.1 L1656.0,1592.2 L1657.5,1592.4 L1659.0,1592.5 L1660.5,1592.7 L1662.0,1592.9 L1663.5,1593.0 L1665.0,1593.2 L1666.5,1593.3 L1668.0,1593.5 L1669.5,1593.6 L1671.0,1593.8 L1672.5,1593.9 L1674.0,1594.1 L1675.5,1594.2 L1677.0,1594.4 L1678.5,1594.5 L1680.0,1594.7 L1681.5,1594.8 L1683.0,1595.0 L1684.5,1595.1 L1686.0,1595.2 L1687.5,1595.4 L1689.0,1595.5 L1690.5,1595.6 L1692.0,1595.8 L1693.5,1595.9 L1695.0,1596.0 L1696.5,1596.2 L1698.0,1596.3 L1699.5,1596.4 L1701.0,1596.6 L1702.5,1596.7 L1704.0,1596.8 L1705.5,1596.9 L1707.0,1597.1 L1708.5,1597.2 L1710.0,1597.3 L1711.5,1597.4 L1713.0,1597.6 L1714.5,1597.7 L1716.0,1597.8 L1717.5,1597.9 L1719.0,1598.0 L1720.5,1598.1 L1722.0,1598.3 L1723.5,1598.4 L1725.0,1598.5 L1726.5,1598.6 L1728.0,1598.7 L1729.5,1598.8 L1731.0,1598.9 L1732.5,1599.0 L1734.0,1599.2 L1735.5,1599.3 L1737.0,1599.4 L1738.5,1599.5 L1740.0,1599.6 L1741.5,1599.7 L1743.0,1599.8 L1744.5,1599.9 L1746.0,1600.0 L1747.5,1600.1 L1749.0,1600.2 L1750.5,1600.3 L1752.0,1600.4 L1753.5,1600.5 L1755.0,1600.6 L1756.5,1600.7 L1758.0,1600.8 L1759.5,1600.9 L1761.0,1601.0 L1762.5,1601.1 L1764.0,1601.1 L1765.5,1601.2 L1767.0,1601.3 L1768.5,1601.4 L1770.0,1601.5 L1771.5,1601.6 L1773.0,1601.7 L1774.5,1601.8 L1776.0,1601.9 L1777.5,1602.0 L1779.0,1602.0 L1780.5,1602.1 L1782.0,1602.2 L1783.5,1602.3 L1785.0,1602.4 L1786.5,1602.5 L1788.0,1602.6 L1789.5,1602.6"/>
</g>
<g stroke="#000" stroke-width="8.8" fill="none">
<line x1="1785.6" y1="50.6" x2="1785.6" y2="1641.2"/>
<line x1="275.8" y1="55.0" x2="1790.0" y2="55.0"/>
</g>
<g font-size="50.5" text-anchor="end">
<text x="259" y="1632.5">0</text>
<text x="259" y="1319.9">2000</text>
<text x="259" y="1007.3">4000</text>
<text x="259" y="694.7">6000</text>
<text x="259" y="382.1">8000</text>
<text x="259" y="69.5">10,000</text>
</g>
<g font-size="70.6" text-anchor="middle">
<text x="411.0" y="1712.5">400</text>
<text x="685.9" y="1712.5">425</text>
<text x="960.8" y="1712.5">450</text>
<text x="1235.7" y="1712.5">475</text>
<text x="1510.7" y="1712.5">500</text>
<text x="1785.6" y="1712.5">525</text>
</g>
<text x="1074.5" y="1831.7" font-size="81.3" text-anchor="middle">Wavelength (nm)</text>
<text transform="translate(83.2,809) rotate(-90)" font-size="81" text-anchor="middle">PL emission intensity</text>
<g stroke-width="9" stroke-linecap="round" fill="none">
<line x1="1228.5" y1="123.8" x2="1385.7" y2="123.8" stroke="#515151"/>
<line x1="1228.5" y1="254.7" x2="1385.7" y2="254.7" stroke="#ff00ff"/>
<line x1="1228.5" y1="385" x2="1385.7" y2="385" stroke="#ff0000"/>
<line x1="1228.5" y1="495" x2="1385.7" y2="495" stroke="#0000ff"/>
</g>
<g font-size="71.2">
<text x="1403.3" y="147.2">BiVO<tspan font-size="48" dy="19.6">4</tspan></text>
<text x="1403.3" y="278">Bi<tspan font-size="48" dy="18.7">2</tspan><tspan dy="-18.7">O</tspan><tspan font-size="48" dy="18.7">2</tspan><tspan dy="-18.7">S</tspan></text>
<text x="1403.3" y="409">BVO/BOS</text>
<text x="1403.3" y="519">2BVO/BOS</text>
</g>
</svg></body></html>
